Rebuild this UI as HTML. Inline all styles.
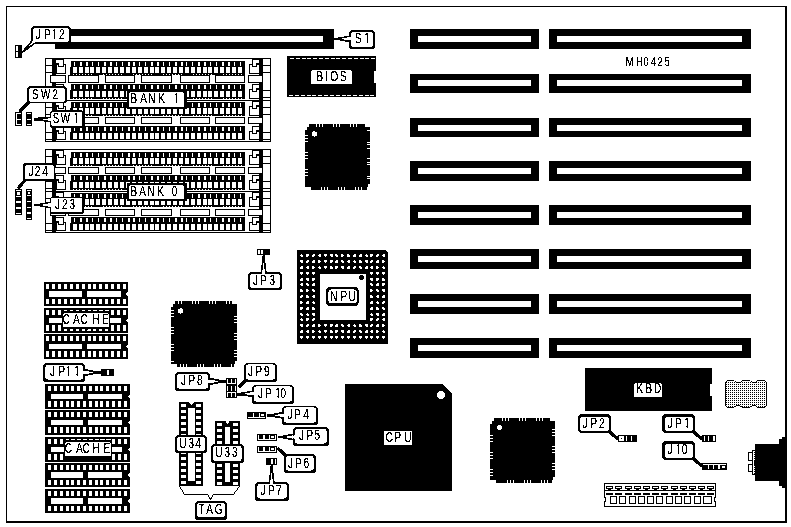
<!DOCTYPE html>
<html lang="en">
<head>
<meta charset="utf-8">
<title>MH0425 motherboard layout</title>
<style>
html,body{margin:0;padding:0;background:#fff;}
body{width:791px;height:527px;overflow:hidden;}
svg{display:block;shape-rendering:crispEdges;}
svg .aa{shape-rendering:geometricPrecision;}
svg .k{fill:#000;}
svg .w{fill:#fff;}
svg .ln{fill:none;stroke:#000;}
svg text{font-family:"Liberation Sans",sans-serif;text-anchor:middle;fill:#000;stroke:#000;stroke-width:0.2px;white-space:pre;}
</style>
</head>
<body>
<svg width="791" height="527" viewBox="0 0 791 527">
<defs><filter id="bw" x="0" y="0" width="791" height="527" filterUnits="userSpaceOnUse" color-interpolation-filters="sRGB"><feColorMatrix type="matrix" values="0.33 0.34 0.33 0 0 0.33 0.34 0.33 0 0 0.33 0.34 0.33 0 0 0 0 0 1 0"/><feComponentTransfer><feFuncR type="discrete" tableValues="0 1"/><feFuncG type="discrete" tableValues="0 1"/><feFuncB type="discrete" tableValues="0 1"/></feComponentTransfer></filter></defs>
<g filter="url(#bw)">
<rect x="0" y="0" width="791" height="527" fill="#fff"/>
<rect class="k" x="6" y="6" width="781" height="517"/>
<rect class="w" x="7" y="7" width="778" height="514"/>
<rect class="k" x="55" y="29" width="279" height="20"/>
<rect class="w" x="63" y="36" width="260" height="6"/>
<rect class="k" x="410" y="29" width="129" height="20"/>
<rect class="w" x="418" y="36" width="113" height="6"/>
<rect class="k" x="549" y="29" width="202" height="20"/>
<rect class="w" x="557" y="36" width="185" height="6"/>
<rect class="k" x="410" y="74" width="129" height="19"/>
<rect class="w" x="418" y="80" width="113" height="6"/>
<rect class="k" x="549" y="74" width="202" height="19"/>
<rect class="w" x="557" y="80" width="185" height="6"/>
<rect class="k" x="410" y="118" width="129" height="19"/>
<rect class="w" x="418" y="125" width="113" height="6"/>
<rect class="k" x="549" y="118" width="202" height="19"/>
<rect class="w" x="557" y="125" width="185" height="6"/>
<rect class="k" x="410" y="161" width="129" height="20"/>
<rect class="w" x="418" y="168" width="113" height="6"/>
<rect class="k" x="549" y="161" width="202" height="20"/>
<rect class="w" x="557" y="168" width="185" height="6"/>
<rect class="k" x="410" y="205" width="129" height="20"/>
<rect class="w" x="418" y="212" width="113" height="6"/>
<rect class="k" x="549" y="205" width="202" height="20"/>
<rect class="w" x="557" y="212" width="185" height="6"/>
<rect class="k" x="410" y="249" width="129" height="20"/>
<rect class="w" x="418" y="256" width="113" height="6"/>
<rect class="k" x="549" y="249" width="202" height="20"/>
<rect class="w" x="557" y="256" width="185" height="6"/>
<rect class="k" x="410" y="294" width="129" height="20"/>
<rect class="w" x="418" y="301" width="113" height="6"/>
<rect class="k" x="549" y="294" width="202" height="20"/>
<rect class="w" x="557" y="301" width="185" height="6"/>
<rect class="k" x="410" y="338" width="129" height="20"/>
<rect class="w" x="418" y="345" width="113" height="6"/>
<rect class="k" x="549" y="338" width="202" height="20"/>
<rect class="w" x="557" y="345" width="185" height="6"/>
<defs>
<g id="cr1">
<rect class="k" x="70" y="6" width="175" height="8"/>
<rect class="k" x="71" y="0" width="174" height="7"/>
<rect class="w" x="73" y="6" width="4" height="6"/>
<rect class="w" x="74" y="1" width="1" height="4"/>
<rect class="w" x="79" y="6" width="4" height="6"/>
<rect class="w" x="80" y="1" width="2" height="4"/>
<rect class="w" x="85" y="6" width="4" height="6"/>
<rect class="w" x="86" y="1" width="2" height="4"/>
<rect class="w" x="90" y="6" width="4" height="6"/>
<rect class="w" x="92" y="1" width="1" height="4"/>
<rect class="w" x="96" y="6" width="4" height="6"/>
<rect class="w" x="98" y="1" width="1" height="4"/>
<rect class="w" x="102" y="6" width="4" height="6"/>
<rect class="w" x="104" y="1" width="2" height="4"/>
<rect class="w" x="108" y="6" width="4" height="6"/>
<rect class="w" x="110" y="1" width="2" height="4"/>
<rect class="w" x="114" y="6" width="4" height="6"/>
<rect class="w" x="116" y="1" width="1" height="4"/>
<rect class="w" x="120" y="6" width="4" height="6"/>
<rect class="w" x="122" y="1" width="1" height="4"/>
<rect class="w" x="126" y="6" width="4" height="6"/>
<rect class="w" x="128" y="1" width="2" height="4"/>
<rect class="w" x="132" y="6" width="4" height="6"/>
<rect class="w" x="133" y="1" width="2" height="4"/>
<rect class="w" x="138" y="6" width="4" height="6"/>
<rect class="w" x="139" y="1" width="1" height="4"/>
<rect class="w" x="144" y="6" width="4" height="6"/>
<rect class="w" x="145" y="1" width="1" height="4"/>
<rect class="w" x="150" y="6" width="4" height="6"/>
<rect class="w" x="151" y="1" width="2" height="4"/>
<rect class="w" x="155" y="6" width="4" height="6"/>
<rect class="w" x="157" y="1" width="2" height="4"/>
<rect class="w" x="161" y="6" width="4" height="6"/>
<rect class="w" x="163" y="1" width="1" height="4"/>
<rect class="w" x="167" y="6" width="4" height="6"/>
<rect class="w" x="169" y="1" width="1" height="4"/>
<rect class="w" x="173" y="6" width="4" height="6"/>
<rect class="w" x="175" y="1" width="2" height="4"/>
<rect class="w" x="179" y="6" width="4" height="6"/>
<rect class="w" x="181" y="1" width="2" height="4"/>
<rect class="w" x="185" y="6" width="4" height="6"/>
<rect class="w" x="186" y="1" width="1" height="4"/>
<rect class="w" x="191" y="6" width="4" height="6"/>
<rect class="w" x="192" y="1" width="1" height="4"/>
<rect class="w" x="197" y="6" width="4" height="6"/>
<rect class="w" x="198" y="1" width="2" height="4"/>
<rect class="w" x="203" y="6" width="4" height="6"/>
<rect class="w" x="204" y="1" width="2" height="4"/>
<rect class="w" x="208" y="6" width="4" height="6"/>
<rect class="w" x="210" y="1" width="1" height="4"/>
<rect class="w" x="214" y="6" width="4" height="6"/>
<rect class="w" x="216" y="1" width="1" height="4"/>
<rect class="w" x="220" y="6" width="4" height="6"/>
<rect class="w" x="222" y="1" width="2" height="4"/>
<rect class="w" x="226" y="6" width="4" height="6"/>
<rect class="w" x="228" y="1" width="2" height="4"/>
<rect class="w" x="232" y="6" width="4" height="6"/>
<rect class="w" x="234" y="1" width="1" height="4"/>
<rect class="w" x="238" y="6" width="4" height="6"/>
<rect class="w" x="240" y="1" width="1" height="4"/>
<rect class="w" x="73" y="13" width="1" height="1"/>
<rect class="w" x="76" y="13" width="1" height="1"/>
<rect class="w" x="79" y="13" width="1" height="1"/>
<rect class="w" x="82" y="13" width="1" height="1"/>
<rect class="w" x="85" y="13" width="1" height="1"/>
<rect class="w" x="88" y="13" width="1" height="1"/>
<rect class="w" x="91" y="13" width="1" height="1"/>
<rect class="w" x="103" y="13" width="1" height="1"/>
<rect class="w" x="106" y="13" width="1" height="1"/>
<rect class="w" x="109" y="13" width="1" height="1"/>
<rect class="w" x="112" y="13" width="1" height="1"/>
<rect class="w" x="115" y="13" width="1" height="1"/>
<rect class="w" x="118" y="13" width="1" height="1"/>
<rect class="w" x="121" y="13" width="1" height="1"/>
<rect class="w" x="133" y="13" width="1" height="1"/>
<rect class="w" x="136" y="13" width="1" height="1"/>
<rect class="w" x="139" y="13" width="1" height="1"/>
<rect class="w" x="142" y="13" width="1" height="1"/>
<rect class="w" x="145" y="13" width="1" height="1"/>
<rect class="w" x="148" y="13" width="1" height="1"/>
<rect class="w" x="151" y="13" width="1" height="1"/>
<rect class="w" x="163" y="13" width="1" height="1"/>
<rect class="w" x="166" y="13" width="1" height="1"/>
<rect class="w" x="169" y="13" width="1" height="1"/>
<rect class="w" x="172" y="13" width="1" height="1"/>
<rect class="w" x="175" y="13" width="1" height="1"/>
<rect class="w" x="178" y="13" width="1" height="1"/>
<rect class="w" x="181" y="13" width="1" height="1"/>
<rect class="w" x="193" y="13" width="1" height="1"/>
<rect class="w" x="196" y="13" width="1" height="1"/>
<rect class="w" x="199" y="13" width="1" height="1"/>
<rect class="w" x="202" y="13" width="1" height="1"/>
<rect class="w" x="205" y="13" width="1" height="1"/>
<rect class="w" x="208" y="13" width="1" height="1"/>
<rect class="w" x="211" y="13" width="1" height="1"/>
<rect class="w" x="223" y="13" width="1" height="1"/>
<rect class="w" x="226" y="13" width="1" height="1"/>
<rect class="w" x="229" y="13" width="1" height="1"/>
<rect class="w" x="232" y="13" width="1" height="1"/>
<rect class="w" x="235" y="13" width="1" height="1"/>
<rect class="w" x="238" y="13" width="1" height="1"/>
<rect class="w" x="241" y="13" width="1" height="1"/>
</g>
<g id="cr2">
<rect class="k" x="70" y="6" width="175" height="9"/>
<rect class="k" x="71" y="0" width="174" height="7"/>
<rect class="w" x="73" y="7" width="4" height="6"/>
<rect class="w" x="74" y="1" width="1" height="4"/>
<rect class="w" x="79" y="7" width="4" height="6"/>
<rect class="w" x="80" y="1" width="2" height="4"/>
<rect class="w" x="85" y="7" width="4" height="6"/>
<rect class="w" x="86" y="1" width="2" height="4"/>
<rect class="w" x="90" y="7" width="4" height="6"/>
<rect class="w" x="92" y="1" width="1" height="4"/>
<rect class="w" x="96" y="7" width="4" height="6"/>
<rect class="w" x="98" y="1" width="1" height="4"/>
<rect class="w" x="102" y="7" width="4" height="6"/>
<rect class="w" x="104" y="1" width="2" height="4"/>
<rect class="w" x="108" y="7" width="4" height="6"/>
<rect class="w" x="110" y="1" width="2" height="4"/>
<rect class="w" x="114" y="7" width="4" height="6"/>
<rect class="w" x="116" y="1" width="1" height="4"/>
<rect class="w" x="120" y="7" width="4" height="6"/>
<rect class="w" x="122" y="1" width="1" height="4"/>
<rect class="w" x="126" y="7" width="4" height="6"/>
<rect class="w" x="128" y="1" width="2" height="4"/>
<rect class="w" x="132" y="7" width="4" height="6"/>
<rect class="w" x="133" y="1" width="2" height="4"/>
<rect class="w" x="138" y="7" width="4" height="6"/>
<rect class="w" x="139" y="1" width="1" height="4"/>
<rect class="w" x="144" y="7" width="4" height="6"/>
<rect class="w" x="145" y="1" width="1" height="4"/>
<rect class="w" x="150" y="7" width="4" height="6"/>
<rect class="w" x="151" y="1" width="2" height="4"/>
<rect class="w" x="155" y="7" width="4" height="6"/>
<rect class="w" x="157" y="1" width="2" height="4"/>
<rect class="w" x="161" y="7" width="4" height="6"/>
<rect class="w" x="163" y="1" width="1" height="4"/>
<rect class="w" x="167" y="7" width="4" height="6"/>
<rect class="w" x="169" y="1" width="1" height="4"/>
<rect class="w" x="173" y="7" width="4" height="6"/>
<rect class="w" x="175" y="1" width="2" height="4"/>
<rect class="w" x="179" y="7" width="4" height="6"/>
<rect class="w" x="181" y="1" width="2" height="4"/>
<rect class="w" x="185" y="7" width="4" height="6"/>
<rect class="w" x="186" y="1" width="1" height="4"/>
<rect class="w" x="191" y="7" width="4" height="6"/>
<rect class="w" x="192" y="1" width="1" height="4"/>
<rect class="w" x="197" y="7" width="4" height="6"/>
<rect class="w" x="198" y="1" width="2" height="4"/>
<rect class="w" x="203" y="7" width="4" height="6"/>
<rect class="w" x="204" y="1" width="2" height="4"/>
<rect class="w" x="208" y="7" width="4" height="6"/>
<rect class="w" x="210" y="1" width="1" height="4"/>
<rect class="w" x="214" y="7" width="4" height="6"/>
<rect class="w" x="216" y="1" width="1" height="4"/>
<rect class="w" x="220" y="7" width="4" height="6"/>
<rect class="w" x="222" y="1" width="2" height="4"/>
<rect class="w" x="226" y="7" width="4" height="6"/>
<rect class="w" x="228" y="1" width="2" height="4"/>
<rect class="w" x="232" y="7" width="4" height="6"/>
<rect class="w" x="234" y="1" width="1" height="4"/>
<rect class="w" x="238" y="7" width="4" height="6"/>
<rect class="w" x="240" y="1" width="1" height="4"/>
<rect class="w" x="73" y="14" width="1" height="1"/>
<rect class="w" x="76" y="14" width="1" height="1"/>
<rect class="w" x="79" y="14" width="1" height="1"/>
<rect class="w" x="82" y="14" width="1" height="1"/>
<rect class="w" x="85" y="14" width="1" height="1"/>
<rect class="w" x="88" y="14" width="1" height="1"/>
<rect class="w" x="91" y="14" width="1" height="1"/>
<rect class="w" x="103" y="14" width="1" height="1"/>
<rect class="w" x="106" y="14" width="1" height="1"/>
<rect class="w" x="109" y="14" width="1" height="1"/>
<rect class="w" x="112" y="14" width="1" height="1"/>
<rect class="w" x="115" y="14" width="1" height="1"/>
<rect class="w" x="118" y="14" width="1" height="1"/>
<rect class="w" x="121" y="14" width="1" height="1"/>
<rect class="w" x="133" y="14" width="1" height="1"/>
<rect class="w" x="136" y="14" width="1" height="1"/>
<rect class="w" x="139" y="14" width="1" height="1"/>
<rect class="w" x="142" y="14" width="1" height="1"/>
<rect class="w" x="145" y="14" width="1" height="1"/>
<rect class="w" x="148" y="14" width="1" height="1"/>
<rect class="w" x="151" y="14" width="1" height="1"/>
<rect class="w" x="163" y="14" width="1" height="1"/>
<rect class="w" x="166" y="14" width="1" height="1"/>
<rect class="w" x="169" y="14" width="1" height="1"/>
<rect class="w" x="172" y="14" width="1" height="1"/>
<rect class="w" x="175" y="14" width="1" height="1"/>
<rect class="w" x="178" y="14" width="1" height="1"/>
<rect class="w" x="181" y="14" width="1" height="1"/>
<rect class="w" x="193" y="14" width="1" height="1"/>
<rect class="w" x="196" y="14" width="1" height="1"/>
<rect class="w" x="199" y="14" width="1" height="1"/>
<rect class="w" x="202" y="14" width="1" height="1"/>
<rect class="w" x="205" y="14" width="1" height="1"/>
<rect class="w" x="208" y="14" width="1" height="1"/>
<rect class="w" x="211" y="14" width="1" height="1"/>
<rect class="w" x="223" y="14" width="1" height="1"/>
<rect class="w" x="226" y="14" width="1" height="1"/>
<rect class="w" x="229" y="14" width="1" height="1"/>
<rect class="w" x="232" y="14" width="1" height="1"/>
<rect class="w" x="235" y="14" width="1" height="1"/>
<rect class="w" x="238" y="14" width="1" height="1"/>
<rect class="w" x="241" y="14" width="1" height="1"/>
</g>
<g id="cr0">
<rect class="k" x="70" y="6" width="175" height="8"/>
<rect class="k" x="71" y="0" width="174" height="7"/>
<rect class="w" x="73" y="7" width="4" height="6"/>
<rect class="w" x="74" y="1" width="1" height="4"/>
<rect class="w" x="79" y="7" width="4" height="6"/>
<rect class="w" x="80" y="1" width="2" height="4"/>
<rect class="w" x="85" y="7" width="4" height="6"/>
<rect class="w" x="86" y="1" width="2" height="4"/>
<rect class="w" x="90" y="7" width="4" height="6"/>
<rect class="w" x="92" y="1" width="1" height="4"/>
<rect class="w" x="96" y="7" width="4" height="6"/>
<rect class="w" x="98" y="1" width="1" height="4"/>
<rect class="w" x="102" y="7" width="4" height="6"/>
<rect class="w" x="104" y="1" width="2" height="4"/>
<rect class="w" x="108" y="7" width="4" height="6"/>
<rect class="w" x="110" y="1" width="2" height="4"/>
<rect class="w" x="114" y="7" width="4" height="6"/>
<rect class="w" x="116" y="1" width="1" height="4"/>
<rect class="w" x="120" y="7" width="4" height="6"/>
<rect class="w" x="122" y="1" width="1" height="4"/>
<rect class="w" x="126" y="7" width="4" height="6"/>
<rect class="w" x="128" y="1" width="2" height="4"/>
<rect class="w" x="132" y="7" width="4" height="6"/>
<rect class="w" x="133" y="1" width="2" height="4"/>
<rect class="w" x="138" y="7" width="4" height="6"/>
<rect class="w" x="139" y="1" width="1" height="4"/>
<rect class="w" x="144" y="7" width="4" height="6"/>
<rect class="w" x="145" y="1" width="1" height="4"/>
<rect class="w" x="150" y="7" width="4" height="6"/>
<rect class="w" x="151" y="1" width="2" height="4"/>
<rect class="w" x="155" y="7" width="4" height="6"/>
<rect class="w" x="157" y="1" width="2" height="4"/>
<rect class="w" x="161" y="7" width="4" height="6"/>
<rect class="w" x="163" y="1" width="1" height="4"/>
<rect class="w" x="167" y="7" width="4" height="6"/>
<rect class="w" x="169" y="1" width="1" height="4"/>
<rect class="w" x="173" y="7" width="4" height="6"/>
<rect class="w" x="175" y="1" width="2" height="4"/>
<rect class="w" x="179" y="7" width="4" height="6"/>
<rect class="w" x="181" y="1" width="2" height="4"/>
<rect class="w" x="185" y="7" width="4" height="6"/>
<rect class="w" x="186" y="1" width="1" height="4"/>
<rect class="w" x="191" y="7" width="4" height="6"/>
<rect class="w" x="192" y="1" width="1" height="4"/>
<rect class="w" x="197" y="7" width="4" height="6"/>
<rect class="w" x="198" y="1" width="2" height="4"/>
<rect class="w" x="203" y="7" width="4" height="6"/>
<rect class="w" x="204" y="1" width="2" height="4"/>
<rect class="w" x="208" y="7" width="4" height="6"/>
<rect class="w" x="210" y="1" width="1" height="4"/>
<rect class="w" x="214" y="7" width="4" height="6"/>
<rect class="w" x="216" y="1" width="1" height="4"/>
<rect class="w" x="220" y="7" width="4" height="6"/>
<rect class="w" x="222" y="1" width="2" height="4"/>
<rect class="w" x="226" y="7" width="4" height="6"/>
<rect class="w" x="228" y="1" width="2" height="4"/>
<rect class="w" x="232" y="7" width="4" height="6"/>
<rect class="w" x="234" y="1" width="1" height="4"/>
<rect class="w" x="238" y="7" width="4" height="6"/>
<rect class="w" x="240" y="1" width="1" height="4"/>
</g>
<g id="lt">
<rect class="k" x="249" y="6" width="11" height="10"/>
<rect class="w" x="250" y="7" width="9" height="8"/>
<rect class="k" x="252" y="1" width="8" height="8"/>
<rect class="w" x="253" y="2" width="6" height="3"/>
<rect class="w" x="253" y="5" width="3" height="3"/>
<rect class="w" x="257" y="7" width="2" height="2"/>
<rect class="k" x="56" y="6" width="10" height="10"/>
<rect class="w" x="57" y="7" width="8" height="8"/>
<rect class="k" x="55" y="1" width="9" height="8"/>
<rect class="w" x="56" y="2" width="7" height="3"/>
<rect class="w" x="59" y="5" width="4" height="3"/>
<rect class="w" x="57" y="7" width="1" height="2"/>
</g>
<g id="lu">
<rect class="k" x="249" y="6" width="11" height="9"/>
<rect class="w" x="250" y="7" width="9" height="7"/>
<rect class="k" x="252" y="1" width="8" height="8"/>
<rect class="w" x="253" y="2" width="6" height="3"/>
<rect class="w" x="253" y="5" width="3" height="3"/>
<rect class="w" x="257" y="7" width="2" height="2"/>
<rect class="k" x="56" y="6" width="10" height="9"/>
<rect class="w" x="57" y="7" width="8" height="7"/>
<rect class="k" x="55" y="1" width="9" height="8"/>
<rect class="w" x="56" y="2" width="7" height="3"/>
<rect class="w" x="59" y="5" width="4" height="3"/>
<rect class="w" x="57" y="7" width="1" height="2"/>
</g>
<g id="bank1">
<rect class="k" x="45" y="0" width="226" height="84"/>
<rect class="w" x="46" y="1" width="224" height="82"/>
<rect class="k" x="45" y="42" width="226" height="1"/>
<rect class="k" x="52" y="0" width="4" height="84"/>
<rect class="k" x="259" y="0" width="4" height="84"/>
<rect class="k" x="45" y="7" width="7" height="1"/>
<rect class="k" x="263" y="7" width="8" height="1"/>
<rect class="k" x="45" y="14" width="7" height="1"/>
<rect class="k" x="263" y="14" width="8" height="1"/>
<rect class="k" x="45" y="32" width="7" height="1"/>
<rect class="k" x="263" y="32" width="8" height="1"/>
<rect class="k" x="45" y="39" width="7" height="1"/>
<rect class="k" x="263" y="39" width="8" height="1"/>
<rect class="k" x="45" y="49" width="7" height="1"/>
<rect class="k" x="263" y="49" width="8" height="1"/>
<rect class="k" x="45" y="56" width="7" height="1"/>
<rect class="k" x="263" y="56" width="8" height="1"/>
<rect class="k" x="45" y="74" width="7" height="1"/>
<rect class="k" x="263" y="74" width="8" height="1"/>
<rect class="k" x="45" y="81" width="7" height="1"/>
<rect class="k" x="263" y="81" width="8" height="1"/>
<use href="#cr1" y="3"/>
<use href="#lt" y="0"/>
<use href="#cr2" y="26"/>
<use href="#lt" y="25"/>
<use href="#cr1" y="44"/>
<use href="#lt" y="42"/>
<use href="#cr0" y="68"/>
<use href="#lu" y="67"/>
<rect class="k" x="50" y="17" width="16" height="8"/>
<rect class="w" x="51" y="18" width="14" height="6"/>
<rect class="k" x="248" y="17" width="15" height="8"/>
<rect class="w" x="249" y="18" width="13" height="6"/>
<rect class="k" x="68" y="17" width="31" height="8"/>
<rect class="w" x="69" y="18" width="29" height="6"/>
<rect class="k" x="105" y="17" width="30" height="8"/>
<rect class="w" x="106" y="18" width="28" height="6"/>
<rect class="k" x="141" y="17" width="31" height="8"/>
<rect class="w" x="142" y="18" width="29" height="6"/>
<rect class="k" x="180" y="17" width="30" height="8"/>
<rect class="w" x="181" y="18" width="28" height="6"/>
<rect class="k" x="215" y="17" width="30" height="8"/>
<rect class="w" x="216" y="18" width="28" height="6"/>
<rect class="k" x="50" y="59" width="16" height="7"/>
<rect class="w" x="51" y="60" width="14" height="5"/>
<rect class="k" x="248" y="59" width="15" height="7"/>
<rect class="w" x="249" y="60" width="13" height="5"/>
<rect class="k" x="68" y="59" width="31" height="7"/>
<rect class="w" x="69" y="60" width="29" height="5"/>
<rect class="k" x="105" y="59" width="30" height="7"/>
<rect class="w" x="106" y="60" width="28" height="5"/>
<rect class="k" x="141" y="59" width="31" height="7"/>
<rect class="w" x="142" y="60" width="29" height="5"/>
<rect class="k" x="180" y="59" width="30" height="7"/>
<rect class="w" x="181" y="60" width="28" height="5"/>
<rect class="k" x="215" y="59" width="30" height="7"/>
<rect class="w" x="216" y="60" width="28" height="5"/>
</g>
<g id="bank0">
<rect class="k" x="45" y="0" width="226" height="84"/>
<rect class="w" x="46" y="1" width="224" height="82"/>
<rect class="k" x="45" y="42" width="226" height="1"/>
<rect class="k" x="52" y="0" width="4" height="84"/>
<rect class="k" x="259" y="0" width="4" height="84"/>
<rect class="k" x="45" y="7" width="7" height="1"/>
<rect class="k" x="263" y="7" width="8" height="1"/>
<rect class="k" x="45" y="14" width="7" height="1"/>
<rect class="k" x="263" y="14" width="8" height="1"/>
<rect class="k" x="45" y="32" width="7" height="1"/>
<rect class="k" x="263" y="32" width="8" height="1"/>
<rect class="k" x="45" y="39" width="7" height="1"/>
<rect class="k" x="263" y="39" width="8" height="1"/>
<rect class="k" x="45" y="49" width="7" height="1"/>
<rect class="k" x="263" y="49" width="8" height="1"/>
<rect class="k" x="45" y="56" width="7" height="1"/>
<rect class="k" x="263" y="56" width="8" height="1"/>
<rect class="k" x="45" y="74" width="7" height="1"/>
<rect class="k" x="263" y="74" width="8" height="1"/>
<rect class="k" x="45" y="81" width="7" height="1"/>
<rect class="k" x="263" y="81" width="8" height="1"/>
<use href="#cr1" y="3"/>
<use href="#lt" y="0"/>
<use href="#cr2" y="26"/>
<use href="#lt" y="25"/>
<use href="#cr1" y="44"/>
<use href="#lt" y="42"/>
<use href="#cr0" y="68"/>
<use href="#lu" y="67"/>
<rect class="k" x="50" y="18" width="16" height="7"/>
<rect class="w" x="51" y="19" width="14" height="5"/>
<rect class="k" x="248" y="18" width="15" height="7"/>
<rect class="w" x="249" y="19" width="13" height="5"/>
<rect class="k" x="68" y="18" width="31" height="7"/>
<rect class="w" x="69" y="19" width="29" height="5"/>
<rect class="k" x="105" y="18" width="30" height="7"/>
<rect class="w" x="106" y="19" width="28" height="5"/>
<rect class="k" x="141" y="18" width="31" height="7"/>
<rect class="w" x="142" y="19" width="29" height="5"/>
<rect class="k" x="180" y="18" width="30" height="7"/>
<rect class="w" x="181" y="19" width="28" height="5"/>
<rect class="k" x="215" y="18" width="30" height="7"/>
<rect class="w" x="216" y="19" width="28" height="5"/>
<rect class="k" x="50" y="60" width="16" height="7"/>
<rect class="w" x="51" y="61" width="14" height="5"/>
<rect class="k" x="248" y="60" width="15" height="7"/>
<rect class="w" x="249" y="61" width="13" height="5"/>
<rect class="k" x="68" y="60" width="31" height="7"/>
<rect class="w" x="69" y="61" width="29" height="5"/>
<rect class="k" x="105" y="60" width="30" height="7"/>
<rect class="w" x="106" y="61" width="28" height="5"/>
<rect class="k" x="141" y="60" width="31" height="7"/>
<rect class="w" x="142" y="61" width="29" height="5"/>
<rect class="k" x="180" y="60" width="30" height="7"/>
<rect class="w" x="181" y="61" width="28" height="5"/>
<rect class="k" x="215" y="60" width="30" height="7"/>
<rect class="w" x="216" y="61" width="28" height="5"/>
</g>
<clipPath id="c0"><path clip-rule="evenodd" d="M31.62 -20H103.51V8H31.62ZM48.02 -12H52.62V-8.4H48.02ZM69.92 -1.2H73.42V4H69.92ZM74.92 -1.2H77.92V4H74.92Z"/></clipPath>
<clipPath id="c1"><path clip-rule="evenodd" d="M463.92 -20H515.95V8H463.92ZM491.95 -1.2H495.45V4H491.95ZM496.95 -1.2H499.95V4H496.95Z"/></clipPath>
<clipPath id="c2"><path clip-rule="evenodd" d="M60.21 -20H129.07V8H60.21ZM105.07 -1.2H108.57V4H105.07ZM110.07 -1.2H113.07V4H110.07Z"/></clipPath>
<clipPath id="c3"><path clip-rule="evenodd" d="M168.59 -20H268.59V8H168.59ZM244.59 -1.2H248.09V4H244.59ZM249.59 -1.2H252.59V4H249.59Z"/></clipPath>
<clipPath id="c4"><path clip-rule="evenodd" d="M21.89 -20H81.08V8H21.89ZM38.29 -12H42.89V-8.4H38.29Z"/></clipPath>
<clipPath id="c5"><path clip-rule="evenodd" d="M57.84 -20H117.57V8H57.84ZM74.24 -12H78.84V-8.4H74.24Z"/></clipPath>
<clipPath id="c6"><path clip-rule="evenodd" d="M325.34 -20H387.7V8H325.34ZM341.74 -12H346.34V-8.4H341.74Z"/></clipPath>
<clipPath id="c7"><path clip-rule="evenodd" d="M51.01 -20H123.92V8H51.01ZM67.41 -12H72.01V-8.4H67.41ZM88.84 -1.2H92.34V4H88.84ZM93.84 -1.2H96.84V4H93.84ZM99.92 -1.2H103.42V4H99.92ZM104.92 -1.2H107.92V4H104.92Z"/></clipPath>
<clipPath id="c8"><path clip-rule="evenodd" d="M227.97 -20H290.07V8H227.97ZM244.37 -12H248.97V-8.4H244.37Z"/></clipPath>
<clipPath id="c9"><path clip-rule="evenodd" d="M318.51 -20H380.54V8H318.51ZM334.91 -12H339.51V-8.4H334.91Z"/></clipPath>
<clipPath id="c10"><path clip-rule="evenodd" d="M332.3 -20H402.7V8H332.3ZM348.7 -12H353.3V-8.4H348.7ZM371.54 -1.2H375.04V4H371.54ZM376.54 -1.2H379.54V4H376.54Z"/></clipPath>
<clipPath id="c11"><path clip-rule="evenodd" d="M372.16 -20H433.85V8H372.16ZM388.56 -12H393.16V-8.4H388.56Z"/></clipPath>
<clipPath id="c12"><path clip-rule="evenodd" d="M387.5 -20H448.51V8H387.5ZM403.9 -12H408.5V-8.4H403.9Z"/></clipPath>
<clipPath id="c13"><path clip-rule="evenodd" d="M372.7 -20H434.12V8H372.7ZM389.1 -12H393.7V-8.4H389.1Z"/></clipPath>
<clipPath id="c14"><path clip-rule="evenodd" d="M335.68 -20H397.03V8H335.68ZM352.08 -12H356.68V-8.4H352.08Z"/></clipPath>
<clipPath id="c15"><path clip-rule="evenodd" d="M770.74 -20H833.24V8H770.74ZM787.14 -12H791.74V-8.4H787.14Z"/></clipPath>
<clipPath id="c16"><path clip-rule="evenodd" d="M885.68 -20H948.24V8H885.68ZM902.08 -12H906.68V-8.4H902.08ZM924.24 -1.2H927.74V4H924.24ZM929.24 -1.2H932.24V4H929.24Z"/></clipPath>
<clipPath id="c17"><path clip-rule="evenodd" d="M885.68 -20H945.27V8H885.68ZM902.08 -12H906.68V-8.4H902.08ZM913.16 -1.2H916.66V4H913.16ZM918.16 -1.2H921.16V4H918.16Z"/></clipPath>
<pattern id="ht" width="2" height="2" patternUnits="userSpaceOnUse"><rect width="2" height="2" fill="#fff"/><rect width="1" height="1" fill="#000"/></pattern>
</defs>
<use href="#bank1" y="58"/>
<use href="#bank0" y="149"/>
<rect class="k" x="287" y="56" width="89" height="41"/>
<rect class="w" x="290" y="58" width="4" height="1"/>
<rect class="w" x="289" y="95" width="4" height="1"/>
<rect class="w" x="296" y="58" width="4" height="1"/>
<rect class="w" x="295" y="95" width="4" height="1"/>
<rect class="w" x="302" y="58" width="4" height="1"/>
<rect class="w" x="301" y="95" width="4" height="1"/>
<rect class="w" x="307" y="58" width="4" height="1"/>
<rect class="w" x="307" y="95" width="4" height="1"/>
<rect class="w" x="313" y="58" width="4" height="1"/>
<rect class="w" x="312" y="95" width="4" height="1"/>
<rect class="w" x="319" y="58" width="4" height="1"/>
<rect class="w" x="318" y="95" width="4" height="1"/>
<rect class="w" x="325" y="58" width="4" height="1"/>
<rect class="w" x="324" y="95" width="4" height="1"/>
<rect class="w" x="331" y="58" width="4" height="1"/>
<rect class="w" x="330" y="95" width="4" height="1"/>
<rect class="w" x="336" y="58" width="4" height="1"/>
<rect class="w" x="336" y="95" width="4" height="1"/>
<rect class="w" x="342" y="58" width="4" height="1"/>
<rect class="w" x="342" y="95" width="4" height="1"/>
<rect class="w" x="348" y="58" width="4" height="1"/>
<rect class="w" x="347" y="95" width="4" height="1"/>
<rect class="w" x="354" y="58" width="4" height="1"/>
<rect class="w" x="353" y="95" width="4" height="1"/>
<rect class="w" x="360" y="58" width="4" height="1"/>
<rect class="w" x="359" y="95" width="4" height="1"/>
<rect class="w" x="365" y="58" width="4" height="1"/>
<rect class="w" x="365" y="95" width="4" height="1"/>
<rect class="w" x="371" y="58" width="4" height="1"/>
<rect class="w" x="370" y="95" width="4" height="1"/>
<rect class="w" x="374" y="71" width="2" height="12"/>
<rect class="w aa" x="311" y="70" width="41" height="14" rx="1.5" ry="1.5"/>
<text transform="translate(0,81) scale(0.74,1)" font-size="14" x="431.89 441.49 451.62 463.65">BIOS</text>
<rect class="k" x="307" y="127" width="61" height="60"/>
<rect class="k" x="309" y="124" width="56" height="3"/>
<rect class="k" x="311" y="187" width="56" height="3"/>
<rect class="k" x="305" y="130" width="2" height="57"/>
<rect class="k" x="368" y="127" width="2" height="57"/>
<rect class="w" x="316" y="124" width="1" height="3"/>
<rect class="w" x="319" y="124" width="1" height="3"/>
<rect class="w" x="322" y="124" width="1" height="3"/>
<rect class="w" x="333" y="124" width="1" height="3"/>
<rect class="w" x="336" y="124" width="1" height="3"/>
<rect class="w" x="339" y="124" width="1" height="3"/>
<rect class="w" x="350" y="124" width="1" height="3"/>
<rect class="w" x="353" y="124" width="1" height="3"/>
<rect class="w" x="356" y="124" width="1" height="3"/>
<rect class="w" x="321" y="187" width="1" height="3"/>
<rect class="w" x="324" y="187" width="1" height="3"/>
<rect class="w" x="327" y="187" width="1" height="3"/>
<rect class="w" x="338" y="187" width="1" height="3"/>
<rect class="w" x="341" y="187" width="1" height="3"/>
<rect class="w" x="344" y="187" width="1" height="3"/>
<rect class="w" x="355" y="187" width="1" height="3"/>
<rect class="w" x="358" y="187" width="1" height="3"/>
<rect class="w" x="361" y="187" width="1" height="3"/>
<rect class="w" x="305" y="135" width="3" height="1"/>
<rect class="w" x="305" y="138" width="3" height="1"/>
<rect class="w" x="305" y="141" width="3" height="1"/>
<rect class="w" x="305" y="152" width="3" height="1"/>
<rect class="w" x="305" y="155" width="3" height="1"/>
<rect class="w" x="305" y="158" width="3" height="1"/>
<rect class="w" x="305" y="169" width="3" height="1"/>
<rect class="w" x="305" y="172" width="3" height="1"/>
<rect class="w" x="305" y="175" width="3" height="1"/>
<rect class="w" x="367" y="130" width="3" height="1"/>
<rect class="w" x="367" y="142" width="3" height="1"/>
<rect class="w" x="367" y="144" width="3" height="1"/>
<rect class="w" x="367" y="148" width="3" height="1"/>
<rect class="w" x="367" y="158" width="3" height="1"/>
<rect class="w" x="367" y="162" width="3" height="1"/>
<rect class="w" x="367" y="164" width="3" height="1"/>
<rect class="w" x="367" y="176" width="3" height="1"/>
<rect class="w" x="367" y="178" width="3" height="1"/>
<circle class="w aa" cx="314.4" cy="133.9" r="2.6"/>
<rect class="k" x="173" y="304" width="62" height="60"/>
<rect class="k" x="175" y="301" width="57" height="3"/>
<rect class="k" x="177" y="364" width="57" height="3"/>
<rect class="k" x="171" y="307" width="2" height="57"/>
<rect class="k" x="235" y="304" width="2" height="57"/>
<rect class="w" x="178" y="301" width="1" height="3"/>
<rect class="w" x="181" y="301" width="1" height="3"/>
<rect class="w" x="192" y="301" width="1" height="3"/>
<rect class="w" x="195" y="301" width="1" height="3"/>
<rect class="w" x="198" y="301" width="1" height="3"/>
<rect class="w" x="209" y="301" width="1" height="3"/>
<rect class="w" x="212" y="301" width="1" height="3"/>
<rect class="w" x="215" y="301" width="1" height="3"/>
<rect class="w" x="226" y="301" width="1" height="3"/>
<rect class="w" x="229" y="301" width="1" height="3"/>
<rect class="w" x="180" y="364" width="1" height="3"/>
<rect class="w" x="183" y="364" width="1" height="3"/>
<rect class="w" x="186" y="364" width="1" height="3"/>
<rect class="w" x="197" y="364" width="1" height="3"/>
<rect class="w" x="200" y="364" width="1" height="3"/>
<rect class="w" x="203" y="364" width="1" height="3"/>
<rect class="w" x="214" y="364" width="1" height="3"/>
<rect class="w" x="217" y="364" width="1" height="3"/>
<rect class="w" x="220" y="364" width="1" height="3"/>
<rect class="w" x="231" y="364" width="1" height="3"/>
<rect class="w" x="171" y="310" width="3" height="1"/>
<rect class="w" x="171" y="313" width="3" height="1"/>
<rect class="w" x="171" y="316" width="3" height="1"/>
<rect class="w" x="171" y="327" width="3" height="1"/>
<rect class="w" x="171" y="330" width="3" height="1"/>
<rect class="w" x="171" y="333" width="3" height="1"/>
<rect class="w" x="171" y="344" width="3" height="1"/>
<rect class="w" x="171" y="347" width="3" height="1"/>
<rect class="w" x="171" y="350" width="3" height="1"/>
<rect class="w" x="171" y="361" width="3" height="1"/>
<rect class="w" x="234" y="316" width="3" height="1"/>
<rect class="w" x="234" y="319" width="3" height="1"/>
<rect class="w" x="234" y="322" width="3" height="1"/>
<rect class="w" x="234" y="333" width="3" height="1"/>
<rect class="w" x="234" y="336" width="3" height="1"/>
<rect class="w" x="234" y="339" width="3" height="1"/>
<rect class="w" x="234" y="350" width="3" height="1"/>
<rect class="w" x="234" y="353" width="3" height="1"/>
<rect class="w" x="234" y="356" width="3" height="1"/>
<circle class="w aa" cx="180.7" cy="310.9" r="2.6"/>
<rect class="k" x="492" y="421" width="61" height="59"/>
<rect class="k" x="494" y="418" width="56" height="3"/>
<rect class="k" x="496" y="480" width="56" height="3"/>
<rect class="k" x="490" y="424" width="2" height="56"/>
<rect class="k" x="553" y="421" width="2" height="56"/>
<rect class="w" x="502" y="418" width="1" height="3"/>
<rect class="w" x="505" y="418" width="1" height="3"/>
<rect class="w" x="508" y="418" width="1" height="3"/>
<rect class="w" x="519" y="418" width="1" height="3"/>
<rect class="w" x="522" y="418" width="1" height="3"/>
<rect class="w" x="525" y="418" width="1" height="3"/>
<rect class="w" x="536" y="418" width="1" height="3"/>
<rect class="w" x="539" y="418" width="1" height="3"/>
<rect class="w" x="542" y="418" width="1" height="3"/>
<rect class="w" x="507" y="480" width="1" height="3"/>
<rect class="w" x="510" y="480" width="1" height="3"/>
<rect class="w" x="513" y="480" width="1" height="3"/>
<rect class="w" x="524" y="480" width="1" height="3"/>
<rect class="w" x="527" y="480" width="1" height="3"/>
<rect class="w" x="530" y="480" width="1" height="3"/>
<rect class="w" x="541" y="480" width="1" height="3"/>
<rect class="w" x="544" y="480" width="1" height="3"/>
<rect class="w" x="547" y="480" width="1" height="3"/>
<rect class="w" x="490" y="435" width="3" height="1"/>
<rect class="w" x="490" y="438" width="3" height="1"/>
<rect class="w" x="490" y="441" width="3" height="1"/>
<rect class="w" x="490" y="452" width="3" height="1"/>
<rect class="w" x="490" y="455" width="3" height="1"/>
<rect class="w" x="490" y="458" width="3" height="1"/>
<rect class="w" x="490" y="469" width="3" height="1"/>
<rect class="w" x="490" y="472" width="3" height="1"/>
<rect class="w" x="490" y="475" width="3" height="1"/>
<rect class="w" x="552" y="429" width="3" height="1"/>
<rect class="w" x="552" y="432" width="3" height="1"/>
<rect class="w" x="552" y="435" width="3" height="1"/>
<rect class="w" x="552" y="446" width="3" height="1"/>
<rect class="w" x="552" y="449" width="3" height="1"/>
<rect class="w" x="552" y="452" width="3" height="1"/>
<rect class="w" x="552" y="463" width="3" height="1"/>
<rect class="w" x="552" y="466" width="3" height="1"/>
<rect class="w" x="552" y="469" width="3" height="1"/>
<circle class="w aa" cx="499.4" cy="427.5" r="2.6"/>
<polygon class="k" points="297,250 385,250 388,253 388,344 297,344" />
<rect class="w" x="300" y="254" width="3" height="3"/>
<rect class="k" x="300" y="254" width="1" height="1"/>
<rect class="k" x="302" y="254" width="1" height="1"/>
<rect class="k" x="300" y="256" width="1" height="1"/>
<rect class="w" x="300" y="260" width="3" height="3"/>
<rect class="k" x="300" y="262" width="1" height="1"/>
<rect class="w" x="300" y="266" width="3" height="3"/>
<rect class="k" x="300" y="266" width="1" height="1"/>
<rect class="w" x="300" y="272" width="3" height="3"/>
<rect class="k" x="300" y="274" width="1" height="1"/>
<rect class="k" x="302" y="274" width="1" height="1"/>
<rect class="w" x="300" y="278" width="3" height="3"/>
<rect class="k" x="300" y="278" width="1" height="1"/>
<rect class="w" x="300" y="283" width="3" height="3"/>
<rect class="k" x="300" y="285" width="1" height="1"/>
<rect class="k" x="300" y="283" width="1" height="1"/>
<rect class="w" x="300" y="289" width="3" height="3"/>
<rect class="k" x="302" y="289" width="1" height="1"/>
<rect class="w" x="300" y="295" width="3" height="3"/>
<rect class="k" x="302" y="297" width="1" height="1"/>
<rect class="k" x="300" y="295" width="1" height="1"/>
<rect class="w" x="300" y="301" width="3" height="3"/>
<rect class="k" x="302" y="301" width="1" height="1"/>
<rect class="k" x="302" y="303" width="1" height="1"/>
<rect class="w" x="300" y="307" width="3" height="3"/>
<rect class="k" x="302" y="309" width="1" height="1"/>
<rect class="w" x="300" y="313" width="3" height="3"/>
<rect class="k" x="302" y="313" width="1" height="1"/>
<rect class="k" x="300" y="315" width="1" height="1"/>
<rect class="w" x="300" y="318" width="3" height="3"/>
<rect class="k" x="300" y="318" width="1" height="1"/>
<rect class="k" x="302" y="318" width="1" height="1"/>
<rect class="k" x="300" y="320" width="1" height="1"/>
<rect class="w" x="300" y="324" width="3" height="3"/>
<rect class="k" x="300" y="326" width="1" height="1"/>
<rect class="w" x="300" y="330" width="3" height="3"/>
<rect class="k" x="300" y="330" width="1" height="1"/>
<rect class="w" x="300" y="336" width="3" height="3"/>
<rect class="k" x="300" y="338" width="1" height="1"/>
<rect class="k" x="302" y="338" width="1" height="1"/>
<rect class="w" x="306" y="254" width="3" height="3"/>
<rect class="k" x="308" y="256" width="1" height="1"/>
<rect class="w" x="306" y="260" width="3" height="3"/>
<rect class="k" x="308" y="262" width="1" height="1"/>
<rect class="k" x="306" y="260" width="1" height="1"/>
<rect class="w" x="306" y="266" width="3" height="3"/>
<rect class="k" x="306" y="268" width="1" height="1"/>
<rect class="k" x="306" y="266" width="1" height="1"/>
<rect class="w" x="306" y="272" width="3" height="3"/>
<rect class="k" x="306" y="274" width="1" height="1"/>
<rect class="k" x="308" y="274" width="1" height="1"/>
<rect class="w" x="306" y="278" width="3" height="3"/>
<rect class="k" x="306" y="280" width="1" height="1"/>
<rect class="w" x="306" y="283" width="3" height="3"/>
<rect class="k" x="308" y="283" width="1" height="1"/>
<rect class="k" x="306" y="285" width="1" height="1"/>
<rect class="w" x="306" y="289" width="3" height="3"/>
<rect class="k" x="308" y="289" width="1" height="1"/>
<rect class="k" x="308" y="291" width="1" height="1"/>
<rect class="w" x="306" y="295" width="3" height="3"/>
<rect class="k" x="308" y="295" width="1" height="1"/>
<rect class="w" x="306" y="301" width="3" height="3"/>
<rect class="k" x="306" y="301" width="1" height="1"/>
<rect class="w" x="306" y="307" width="3" height="3"/>
<rect class="k" x="306" y="307" width="1" height="1"/>
<rect class="w" x="306" y="313" width="3" height="3"/>
<rect class="k" x="306" y="313" width="1" height="1"/>
<rect class="k" x="308" y="313" width="1" height="1"/>
<rect class="k" x="306" y="315" width="1" height="1"/>
<rect class="w" x="306" y="318" width="3" height="3"/>
<rect class="k" x="308" y="320" width="1" height="1"/>
<rect class="w" x="306" y="324" width="3" height="3"/>
<rect class="k" x="308" y="326" width="1" height="1"/>
<rect class="k" x="306" y="324" width="1" height="1"/>
<rect class="w" x="306" y="330" width="3" height="3"/>
<rect class="k" x="306" y="332" width="1" height="1"/>
<rect class="k" x="306" y="330" width="1" height="1"/>
<rect class="w" x="306" y="336" width="3" height="3"/>
<rect class="k" x="306" y="338" width="1" height="1"/>
<rect class="k" x="308" y="338" width="1" height="1"/>
<rect class="w" x="312" y="254" width="3" height="3"/>
<rect class="k" x="314" y="256" width="1" height="1"/>
<rect class="k" x="312" y="254" width="1" height="1"/>
<rect class="w" x="312" y="260" width="3" height="3"/>
<rect class="k" x="312" y="260" width="1" height="1"/>
<rect class="w" x="312" y="266" width="3" height="3"/>
<rect class="k" x="314" y="266" width="1" height="1"/>
<rect class="k" x="314" y="268" width="1" height="1"/>
<rect class="w" x="312" y="272" width="3" height="3"/>
<rect class="k" x="312" y="274" width="1" height="1"/>
<rect class="k" x="314" y="274" width="1" height="1"/>
<rect class="w" x="312" y="278" width="3" height="3"/>
<rect class="k" x="314" y="280" width="1" height="1"/>
<rect class="w" x="312" y="283" width="3" height="3"/>
<rect class="k" x="312" y="283" width="1" height="1"/>
<rect class="w" x="312" y="289" width="3" height="3"/>
<rect class="k" x="314" y="289" width="1" height="1"/>
<rect class="k" x="312" y="291" width="1" height="1"/>
<rect class="w" x="312" y="295" width="3" height="3"/>
<rect class="k" x="312" y="297" width="1" height="1"/>
<rect class="k" x="312" y="295" width="1" height="1"/>
<rect class="w" x="312" y="301" width="3" height="3"/>
<rect class="k" x="312" y="301" width="1" height="1"/>
<rect class="k" x="314" y="301" width="1" height="1"/>
<rect class="k" x="312" y="303" width="1" height="1"/>
<rect class="w" x="312" y="307" width="3" height="3"/>
<rect class="k" x="314" y="307" width="1" height="1"/>
<rect class="w" x="312" y="313" width="3" height="3"/>
<rect class="k" x="312" y="315" width="1" height="1"/>
<rect class="w" x="312" y="318" width="3" height="3"/>
<rect class="k" x="314" y="320" width="1" height="1"/>
<rect class="k" x="312" y="318" width="1" height="1"/>
<rect class="w" x="312" y="324" width="3" height="3"/>
<rect class="k" x="312" y="324" width="1" height="1"/>
<rect class="w" x="312" y="330" width="3" height="3"/>
<rect class="k" x="314" y="330" width="1" height="1"/>
<rect class="k" x="314" y="332" width="1" height="1"/>
<rect class="w" x="312" y="336" width="3" height="3"/>
<rect class="k" x="312" y="338" width="1" height="1"/>
<rect class="k" x="314" y="338" width="1" height="1"/>
<rect class="w" x="318" y="254" width="3" height="3"/>
<rect class="k" x="318" y="256" width="1" height="1"/>
<rect class="k" x="318" y="254" width="1" height="1"/>
<rect class="w" x="318" y="260" width="3" height="3"/>
<rect class="k" x="320" y="260" width="1" height="1"/>
<rect class="k" x="320" y="262" width="1" height="1"/>
<rect class="w" x="318" y="266" width="3" height="3"/>
<rect class="k" x="318" y="266" width="1" height="1"/>
<rect class="k" x="320" y="266" width="1" height="1"/>
<rect class="k" x="318" y="268" width="1" height="1"/>
<rect class="w" x="318" y="324" width="3" height="3"/>
<rect class="k" x="320" y="324" width="1" height="1"/>
<rect class="k" x="320" y="326" width="1" height="1"/>
<rect class="w" x="318" y="330" width="3" height="3"/>
<rect class="k" x="318" y="330" width="1" height="1"/>
<rect class="k" x="320" y="330" width="1" height="1"/>
<rect class="k" x="318" y="332" width="1" height="1"/>
<rect class="w" x="318" y="336" width="3" height="3"/>
<rect class="k" x="318" y="338" width="1" height="1"/>
<rect class="k" x="320" y="338" width="1" height="1"/>
<rect class="w" x="324" y="254" width="3" height="3"/>
<rect class="k" x="324" y="256" width="1" height="1"/>
<rect class="k" x="326" y="256" width="1" height="1"/>
<rect class="w" x="324" y="260" width="3" height="3"/>
<rect class="k" x="324" y="262" width="1" height="1"/>
<rect class="k" x="326" y="262" width="1" height="1"/>
<rect class="w" x="324" y="266" width="3" height="3"/>
<rect class="k" x="324" y="268" width="1" height="1"/>
<rect class="k" x="326" y="268" width="1" height="1"/>
<rect class="w" x="324" y="324" width="3" height="3"/>
<rect class="k" x="324" y="326" width="1" height="1"/>
<rect class="k" x="326" y="326" width="1" height="1"/>
<rect class="w" x="324" y="330" width="3" height="3"/>
<rect class="k" x="324" y="332" width="1" height="1"/>
<rect class="k" x="326" y="332" width="1" height="1"/>
<rect class="w" x="324" y="336" width="3" height="3"/>
<rect class="k" x="324" y="338" width="1" height="1"/>
<rect class="k" x="326" y="338" width="1" height="1"/>
<rect class="w" x="330" y="254" width="3" height="3"/>
<rect class="k" x="330" y="256" width="1" height="1"/>
<rect class="w" x="330" y="260" width="3" height="3"/>
<rect class="k" x="332" y="262" width="1" height="1"/>
<rect class="w" x="330" y="266" width="3" height="3"/>
<rect class="k" x="332" y="266" width="1" height="1"/>
<rect class="w" x="330" y="324" width="3" height="3"/>
<rect class="k" x="332" y="326" width="1" height="1"/>
<rect class="w" x="330" y="330" width="3" height="3"/>
<rect class="k" x="332" y="330" width="1" height="1"/>
<rect class="w" x="330" y="336" width="3" height="3"/>
<rect class="k" x="330" y="338" width="1" height="1"/>
<rect class="k" x="332" y="338" width="1" height="1"/>
<rect class="w" x="335" y="254" width="3" height="3"/>
<rect class="k" x="337" y="254" width="1" height="1"/>
<rect class="k" x="335" y="256" width="1" height="1"/>
<rect class="w" x="335" y="260" width="3" height="3"/>
<rect class="k" x="335" y="260" width="1" height="1"/>
<rect class="w" x="335" y="266" width="3" height="3"/>
<rect class="k" x="337" y="268" width="1" height="1"/>
<rect class="w" x="335" y="324" width="3" height="3"/>
<rect class="k" x="335" y="324" width="1" height="1"/>
<rect class="w" x="335" y="330" width="3" height="3"/>
<rect class="k" x="337" y="332" width="1" height="1"/>
<rect class="w" x="335" y="336" width="3" height="3"/>
<rect class="k" x="335" y="338" width="1" height="1"/>
<rect class="k" x="337" y="338" width="1" height="1"/>
<rect class="w" x="341" y="254" width="3" height="3"/>
<rect class="k" x="343" y="254" width="1" height="1"/>
<rect class="k" x="343" y="256" width="1" height="1"/>
<rect class="w" x="341" y="260" width="3" height="3"/>
<rect class="k" x="343" y="260" width="1" height="1"/>
<rect class="k" x="341" y="262" width="1" height="1"/>
<rect class="w" x="341" y="266" width="3" height="3"/>
<rect class="k" x="341" y="268" width="1" height="1"/>
<rect class="w" x="341" y="324" width="3" height="3"/>
<rect class="k" x="343" y="324" width="1" height="1"/>
<rect class="k" x="341" y="326" width="1" height="1"/>
<rect class="w" x="341" y="330" width="3" height="3"/>
<rect class="k" x="341" y="332" width="1" height="1"/>
<rect class="w" x="341" y="336" width="3" height="3"/>
<rect class="k" x="341" y="338" width="1" height="1"/>
<rect class="k" x="343" y="338" width="1" height="1"/>
<rect class="w" x="347" y="254" width="3" height="3"/>
<rect class="k" x="349" y="254" width="1" height="1"/>
<rect class="w" x="347" y="260" width="3" height="3"/>
<rect class="k" x="347" y="262" width="1" height="1"/>
<rect class="k" x="347" y="260" width="1" height="1"/>
<rect class="w" x="347" y="266" width="3" height="3"/>
<rect class="k" x="347" y="266" width="1" height="1"/>
<rect class="w" x="347" y="324" width="3" height="3"/>
<rect class="k" x="347" y="326" width="1" height="1"/>
<rect class="k" x="347" y="324" width="1" height="1"/>
<rect class="w" x="347" y="330" width="3" height="3"/>
<rect class="k" x="347" y="330" width="1" height="1"/>
<rect class="w" x="347" y="336" width="3" height="3"/>
<rect class="k" x="347" y="338" width="1" height="1"/>
<rect class="k" x="349" y="338" width="1" height="1"/>
<rect class="w" x="353" y="254" width="3" height="3"/>
<rect class="k" x="353" y="254" width="1" height="1"/>
<rect class="w" x="353" y="260" width="3" height="3"/>
<rect class="k" x="353" y="260" width="1" height="1"/>
<rect class="k" x="355" y="260" width="1" height="1"/>
<rect class="k" x="353" y="262" width="1" height="1"/>
<rect class="w" x="353" y="266" width="3" height="3"/>
<rect class="k" x="355" y="268" width="1" height="1"/>
<rect class="k" x="353" y="266" width="1" height="1"/>
<rect class="w" x="353" y="324" width="3" height="3"/>
<rect class="k" x="353" y="324" width="1" height="1"/>
<rect class="k" x="355" y="324" width="1" height="1"/>
<rect class="k" x="353" y="326" width="1" height="1"/>
<rect class="w" x="353" y="330" width="3" height="3"/>
<rect class="k" x="355" y="332" width="1" height="1"/>
<rect class="k" x="353" y="330" width="1" height="1"/>
<rect class="w" x="353" y="336" width="3" height="3"/>
<rect class="k" x="353" y="338" width="1" height="1"/>
<rect class="k" x="355" y="338" width="1" height="1"/>
<rect class="w" x="359" y="254" width="3" height="3"/>
<rect class="k" x="359" y="254" width="1" height="1"/>
<rect class="w" x="359" y="260" width="3" height="3"/>
<rect class="k" x="361" y="260" width="1" height="1"/>
<rect class="w" x="359" y="266" width="3" height="3"/>
<rect class="k" x="361" y="266" width="1" height="1"/>
<rect class="k" x="359" y="268" width="1" height="1"/>
<rect class="w" x="359" y="324" width="3" height="3"/>
<rect class="k" x="361" y="324" width="1" height="1"/>
<rect class="w" x="359" y="330" width="3" height="3"/>
<rect class="k" x="361" y="330" width="1" height="1"/>
<rect class="k" x="359" y="332" width="1" height="1"/>
<rect class="w" x="359" y="336" width="3" height="3"/>
<rect class="k" x="359" y="338" width="1" height="1"/>
<rect class="k" x="361" y="338" width="1" height="1"/>
<rect class="w" x="365" y="254" width="3" height="3"/>
<rect class="k" x="365" y="254" width="1" height="1"/>
<rect class="k" x="367" y="254" width="1" height="1"/>
<rect class="k" x="365" y="256" width="1" height="1"/>
<rect class="w" x="365" y="260" width="3" height="3"/>
<rect class="k" x="365" y="262" width="1" height="1"/>
<rect class="w" x="365" y="266" width="3" height="3"/>
<rect class="k" x="365" y="266" width="1" height="1"/>
<rect class="w" x="365" y="324" width="3" height="3"/>
<rect class="k" x="365" y="326" width="1" height="1"/>
<rect class="w" x="365" y="330" width="3" height="3"/>
<rect class="k" x="365" y="330" width="1" height="1"/>
<rect class="w" x="365" y="336" width="3" height="3"/>
<rect class="k" x="365" y="338" width="1" height="1"/>
<rect class="k" x="367" y="338" width="1" height="1"/>
<rect class="w" x="370" y="254" width="3" height="3"/>
<rect class="k" x="372" y="256" width="1" height="1"/>
<rect class="w" x="370" y="260" width="3" height="3"/>
<rect class="k" x="372" y="262" width="1" height="1"/>
<rect class="k" x="370" y="260" width="1" height="1"/>
<rect class="w" x="370" y="266" width="3" height="3"/>
<rect class="k" x="370" y="268" width="1" height="1"/>
<rect class="k" x="370" y="266" width="1" height="1"/>
<rect class="w" x="370" y="272" width="3" height="3"/>
<rect class="k" x="370" y="274" width="1" height="1"/>
<rect class="k" x="372" y="274" width="1" height="1"/>
<rect class="w" x="370" y="278" width="3" height="3"/>
<rect class="k" x="370" y="280" width="1" height="1"/>
<rect class="w" x="370" y="283" width="3" height="3"/>
<rect class="k" x="372" y="283" width="1" height="1"/>
<rect class="k" x="370" y="285" width="1" height="1"/>
<rect class="w" x="370" y="289" width="3" height="3"/>
<rect class="k" x="372" y="289" width="1" height="1"/>
<rect class="k" x="372" y="291" width="1" height="1"/>
<rect class="w" x="370" y="295" width="3" height="3"/>
<rect class="k" x="372" y="295" width="1" height="1"/>
<rect class="w" x="370" y="301" width="3" height="3"/>
<rect class="k" x="370" y="301" width="1" height="1"/>
<rect class="w" x="370" y="307" width="3" height="3"/>
<rect class="k" x="370" y="307" width="1" height="1"/>
<rect class="w" x="370" y="313" width="3" height="3"/>
<rect class="k" x="370" y="313" width="1" height="1"/>
<rect class="k" x="372" y="313" width="1" height="1"/>
<rect class="k" x="370" y="315" width="1" height="1"/>
<rect class="w" x="370" y="318" width="3" height="3"/>
<rect class="k" x="372" y="320" width="1" height="1"/>
<rect class="w" x="370" y="324" width="3" height="3"/>
<rect class="k" x="372" y="326" width="1" height="1"/>
<rect class="k" x="370" y="324" width="1" height="1"/>
<rect class="w" x="370" y="330" width="3" height="3"/>
<rect class="k" x="370" y="332" width="1" height="1"/>
<rect class="k" x="370" y="330" width="1" height="1"/>
<rect class="w" x="370" y="336" width="3" height="3"/>
<rect class="k" x="370" y="338" width="1" height="1"/>
<rect class="k" x="372" y="338" width="1" height="1"/>
<rect class="w" x="376" y="254" width="3" height="3"/>
<rect class="k" x="378" y="256" width="1" height="1"/>
<rect class="k" x="376" y="254" width="1" height="1"/>
<rect class="w" x="376" y="260" width="3" height="3"/>
<rect class="k" x="376" y="260" width="1" height="1"/>
<rect class="w" x="376" y="266" width="3" height="3"/>
<rect class="k" x="378" y="266" width="1" height="1"/>
<rect class="k" x="378" y="268" width="1" height="1"/>
<rect class="w" x="376" y="272" width="3" height="3"/>
<rect class="k" x="376" y="274" width="1" height="1"/>
<rect class="k" x="378" y="274" width="1" height="1"/>
<rect class="w" x="376" y="278" width="3" height="3"/>
<rect class="k" x="378" y="280" width="1" height="1"/>
<rect class="w" x="376" y="283" width="3" height="3"/>
<rect class="k" x="376" y="283" width="1" height="1"/>
<rect class="w" x="376" y="289" width="3" height="3"/>
<rect class="k" x="378" y="289" width="1" height="1"/>
<rect class="k" x="376" y="291" width="1" height="1"/>
<rect class="w" x="376" y="295" width="3" height="3"/>
<rect class="k" x="376" y="297" width="1" height="1"/>
<rect class="k" x="376" y="295" width="1" height="1"/>
<rect class="w" x="376" y="301" width="3" height="3"/>
<rect class="k" x="376" y="301" width="1" height="1"/>
<rect class="k" x="378" y="301" width="1" height="1"/>
<rect class="k" x="376" y="303" width="1" height="1"/>
<rect class="w" x="376" y="307" width="3" height="3"/>
<rect class="k" x="378" y="307" width="1" height="1"/>
<rect class="w" x="376" y="313" width="3" height="3"/>
<rect class="k" x="376" y="315" width="1" height="1"/>
<rect class="w" x="376" y="318" width="3" height="3"/>
<rect class="k" x="378" y="320" width="1" height="1"/>
<rect class="k" x="376" y="318" width="1" height="1"/>
<rect class="w" x="376" y="324" width="3" height="3"/>
<rect class="k" x="376" y="324" width="1" height="1"/>
<rect class="w" x="376" y="330" width="3" height="3"/>
<rect class="k" x="378" y="330" width="1" height="1"/>
<rect class="k" x="378" y="332" width="1" height="1"/>
<rect class="w" x="376" y="336" width="3" height="3"/>
<rect class="k" x="376" y="338" width="1" height="1"/>
<rect class="k" x="378" y="338" width="1" height="1"/>
<rect class="w" x="382" y="254" width="3" height="3"/>
<rect class="k" x="382" y="256" width="1" height="1"/>
<rect class="k" x="382" y="254" width="1" height="1"/>
<rect class="w" x="382" y="260" width="3" height="3"/>
<rect class="k" x="384" y="260" width="1" height="1"/>
<rect class="k" x="384" y="262" width="1" height="1"/>
<rect class="w" x="382" y="266" width="3" height="3"/>
<rect class="k" x="382" y="266" width="1" height="1"/>
<rect class="k" x="384" y="266" width="1" height="1"/>
<rect class="k" x="382" y="268" width="1" height="1"/>
<rect class="w" x="382" y="272" width="3" height="3"/>
<rect class="k" x="382" y="274" width="1" height="1"/>
<rect class="k" x="384" y="274" width="1" height="1"/>
<rect class="w" x="382" y="278" width="3" height="3"/>
<rect class="k" x="384" y="278" width="1" height="1"/>
<rect class="w" x="382" y="283" width="3" height="3"/>
<rect class="k" x="384" y="285" width="1" height="1"/>
<rect class="w" x="382" y="289" width="3" height="3"/>
<rect class="k" x="382" y="291" width="1" height="1"/>
<rect class="w" x="382" y="295" width="3" height="3"/>
<rect class="k" x="382" y="295" width="1" height="1"/>
<rect class="w" x="382" y="301" width="3" height="3"/>
<rect class="k" x="384" y="303" width="1" height="1"/>
<rect class="k" x="382" y="301" width="1" height="1"/>
<rect class="w" x="382" y="307" width="3" height="3"/>
<rect class="k" x="384" y="307" width="1" height="1"/>
<rect class="k" x="382" y="309" width="1" height="1"/>
<rect class="w" x="382" y="313" width="3" height="3"/>
<rect class="k" x="382" y="313" width="1" height="1"/>
<rect class="w" x="382" y="318" width="3" height="3"/>
<rect class="k" x="382" y="320" width="1" height="1"/>
<rect class="k" x="382" y="318" width="1" height="1"/>
<rect class="w" x="382" y="324" width="3" height="3"/>
<rect class="k" x="384" y="324" width="1" height="1"/>
<rect class="k" x="384" y="326" width="1" height="1"/>
<rect class="w" x="382" y="330" width="3" height="3"/>
<rect class="k" x="382" y="330" width="1" height="1"/>
<rect class="k" x="384" y="330" width="1" height="1"/>
<rect class="k" x="382" y="332" width="1" height="1"/>
<rect class="w" x="382" y="336" width="3" height="3"/>
<rect class="k" x="382" y="338" width="1" height="1"/>
<rect class="k" x="384" y="338" width="1" height="1"/>
<rect class="w" x="320" y="274" width="46" height="46"/>
<circle class="k aa" cx="361.3" cy="277.4" r="2.5"/>
<rect class="k aa" x="326" y="287" width="33" height="19" rx="4.5" ry="4.5"/>
<rect class="w aa" x="328.5" y="289.5" width="28.2" height="13.8" rx="2.5" ry="2.5"/>
<text transform="translate(0,300.7) scale(0.72,1)" font-size="14" x="463.89 477.5 489.17">NPU</text>
<polygon class="k aa" points="345,384 442.5,384 452,393.5 452,491 345,491" />
<circle class="w aa" cx="441" cy="395.1" r="4"/>
<rect class="w" x="384" y="431" width="28" height="14"/>
<text transform="translate(0,442) scale(0.74,1)" font-size="14" x="525.95 537.57 551.22">CPU</text>
<rect class="k" x="585" y="368" width="127" height="43"/>
<rect class="w" x="710" y="384" width="2" height="12"/>
<rect class="w aa" x="634" y="383" width="28" height="14" rx="1.5" ry="1.5"/>
<text transform="translate(0,393) scale(0.74,1)" font-size="14" x="864.59 876.49 888.51">KBD</text>
<path class="aa" d="M727.5 380.5L734 380.5L736 382.5L740 382.5L742 380.5L750 380.5L752 382.5L755.5 382.5L757.5 380.5L764.5 380.5L766.5 382.5L766.5 405.5L764.5 407.5L757.5 407.5L755.5 405.5L752 405.5L750 407.5L742 407.5L740 405.5L736 405.5L734 407.5L727.5 407.5L725.5 405.5L725.5 382.5Z" fill="url(#ht)" stroke="#000" stroke-width="1" stroke-linejoin="round"/>
<polygon class="k" points="755,444 779,444 779,439 782,439 782,437 786,437 786,488 782,488 782,486 779,486 779,481 755,481" />
<rect class="k" x="752" y="450" width="4" height="25"/>
<rect class="w" x="753" y="451" width="2" height="23"/>
<rect class="k" x="754" y="452" width="1" height="1"/>
<rect class="k" x="754" y="465" width="1" height="1"/>
<rect class="k" x="754" y="454" width="1" height="1"/>
<rect class="k" x="754" y="467" width="1" height="1"/>
<rect class="k" x="754" y="456" width="1" height="1"/>
<rect class="k" x="754" y="469" width="1" height="1"/>
<rect class="k" x="754" y="458" width="1" height="1"/>
<rect class="k" x="754" y="471" width="1" height="1"/>
<rect class="k" x="754" y="460" width="1" height="1"/>
<rect class="k" x="754" y="473" width="1" height="1"/>
<rect class="k" x="754" y="460" width="1" height="5"/>
<rect class="k" x="748" y="452" width="5" height="9"/>
<rect class="w" x="749" y="453" width="3" height="7"/>
<rect class="k" x="748" y="464" width="5" height="8"/>
<rect class="w" x="749" y="465" width="3" height="6"/>
<rect class="k" x="604" y="483" width="112" height="24"/>
<rect class="w" x="605" y="484" width="110" height="22"/>
<rect class="k" x="605" y="490" width="110" height="1"/>
<rect class="k" x="606" y="486" width="7" height="3"/>
<rect class="w" x="607" y="487" width="5" height="1"/>
<rect class="k" x="608" y="489" width="3" height="1"/>
<rect class="k" x="606" y="493" width="7" height="2"/>
<rect class="k" x="615" y="486" width="7" height="3"/>
<rect class="w" x="616" y="487" width="5" height="1"/>
<rect class="k" x="617" y="489" width="3" height="1"/>
<rect class="k" x="615" y="493" width="7" height="2"/>
<rect class="k" x="625" y="486" width="7" height="3"/>
<rect class="w" x="626" y="487" width="5" height="1"/>
<rect class="k" x="627" y="489" width="3" height="1"/>
<rect class="k" x="625" y="493" width="7" height="2"/>
<rect class="k" x="634" y="486" width="7" height="3"/>
<rect class="w" x="635" y="487" width="5" height="1"/>
<rect class="k" x="636" y="489" width="3" height="1"/>
<rect class="k" x="634" y="493" width="7" height="2"/>
<rect class="k" x="643" y="486" width="7" height="3"/>
<rect class="w" x="644" y="487" width="5" height="1"/>
<rect class="k" x="645" y="489" width="3" height="1"/>
<rect class="k" x="643" y="493" width="7" height="2"/>
<rect class="k" x="652" y="486" width="7" height="3"/>
<rect class="w" x="653" y="487" width="5" height="1"/>
<rect class="k" x="654" y="489" width="3" height="1"/>
<rect class="k" x="652" y="493" width="7" height="2"/>
<rect class="k" x="661" y="486" width="7" height="3"/>
<rect class="w" x="662" y="487" width="5" height="1"/>
<rect class="k" x="663" y="489" width="3" height="1"/>
<rect class="k" x="661" y="493" width="7" height="2"/>
<rect class="k" x="671" y="486" width="7" height="3"/>
<rect class="w" x="672" y="487" width="5" height="1"/>
<rect class="k" x="673" y="489" width="3" height="1"/>
<rect class="k" x="671" y="493" width="7" height="2"/>
<rect class="k" x="680" y="486" width="7" height="3"/>
<rect class="w" x="681" y="487" width="5" height="1"/>
<rect class="k" x="682" y="489" width="3" height="1"/>
<rect class="k" x="680" y="493" width="7" height="2"/>
<rect class="k" x="689" y="486" width="7" height="3"/>
<rect class="w" x="690" y="487" width="5" height="1"/>
<rect class="k" x="691" y="489" width="3" height="1"/>
<rect class="k" x="689" y="493" width="7" height="2"/>
<rect class="k" x="698" y="486" width="7" height="3"/>
<rect class="w" x="699" y="487" width="5" height="1"/>
<rect class="k" x="700" y="489" width="3" height="1"/>
<rect class="k" x="698" y="493" width="7" height="2"/>
<rect class="k" x="707" y="486" width="7" height="3"/>
<rect class="w" x="708" y="487" width="5" height="1"/>
<rect class="k" x="709" y="489" width="3" height="1"/>
<rect class="k" x="707" y="493" width="7" height="2"/>
<rect class="k" x="610" y="496" width="7" height="8"/>
<rect class="w" x="611" y="497" width="5" height="6"/>
<rect class="k" x="619" y="496" width="7" height="8"/>
<rect class="w" x="620" y="497" width="5" height="6"/>
<rect class="k" x="629" y="496" width="7" height="8"/>
<rect class="w" x="630" y="497" width="5" height="6"/>
<rect class="k" x="638" y="496" width="7" height="8"/>
<rect class="w" x="639" y="497" width="5" height="6"/>
<rect class="k" x="647" y="496" width="7" height="8"/>
<rect class="w" x="648" y="497" width="5" height="6"/>
<rect class="k" x="656" y="496" width="7" height="8"/>
<rect class="w" x="657" y="497" width="5" height="6"/>
<rect class="k" x="666" y="496" width="7" height="8"/>
<rect class="w" x="667" y="497" width="5" height="6"/>
<rect class="k" x="675" y="496" width="7" height="8"/>
<rect class="w" x="676" y="497" width="5" height="6"/>
<rect class="k" x="684" y="496" width="7" height="8"/>
<rect class="w" x="685" y="497" width="5" height="6"/>
<rect class="k" x="694" y="496" width="7" height="8"/>
<rect class="w" x="695" y="497" width="5" height="6"/>
<rect class="k" x="703" y="496" width="9" height="8"/>
<rect class="w" x="704" y="497" width="7" height="6"/>
<rect class="k" x="604" y="497" width="2" height="1"/>
<rect class="k" x="604" y="501" width="2" height="1"/>
<rect class="k" x="605" y="498" width="1" height="3"/>
<rect class="w" x="604" y="498" width="1" height="3"/>
<rect class="k" x="714" y="497" width="2" height="1"/>
<rect class="k" x="714" y="501" width="2" height="1"/>
<rect class="k" x="714" y="498" width="1" height="3"/>
<rect class="w" x="715" y="498" width="1" height="3"/>
<rect class="k" x="44" y="282" width="84" height="24"/>
<rect class="w" x="46" y="284" width="3" height="5"/>
<rect class="w" x="46" y="299" width="3" height="5"/>
<rect class="w" x="52" y="284" width="3" height="5"/>
<rect class="w" x="52" y="299" width="3" height="5"/>
<rect class="w" x="58" y="284" width="3" height="5"/>
<rect class="w" x="58" y="299" width="3" height="5"/>
<rect class="w" x="64" y="284" width="3" height="5"/>
<rect class="w" x="64" y="299" width="3" height="5"/>
<rect class="w" x="70" y="284" width="3" height="5"/>
<rect class="w" x="70" y="299" width="3" height="5"/>
<rect class="w" x="76" y="284" width="3" height="5"/>
<rect class="w" x="76" y="299" width="3" height="5"/>
<rect class="w" x="82" y="284" width="3" height="5"/>
<rect class="w" x="82" y="299" width="3" height="5"/>
<rect class="w" x="88" y="284" width="3" height="5"/>
<rect class="w" x="88" y="299" width="3" height="5"/>
<rect class="w" x="93" y="284" width="3" height="5"/>
<rect class="w" x="93" y="299" width="3" height="5"/>
<rect class="w" x="99" y="284" width="3" height="5"/>
<rect class="w" x="99" y="299" width="3" height="5"/>
<rect class="w" x="105" y="284" width="3" height="5"/>
<rect class="w" x="105" y="299" width="3" height="5"/>
<rect class="w" x="111" y="284" width="3" height="5"/>
<rect class="w" x="111" y="299" width="3" height="5"/>
<rect class="w" x="117" y="284" width="3" height="5"/>
<rect class="w" x="117" y="299" width="3" height="5"/>
<rect class="w" x="123" y="284" width="3" height="5"/>
<rect class="w" x="123" y="299" width="3" height="5"/>
<rect class="w" x="49" y="291" width="33" height="6"/>
<rect class="w" x="87" y="291" width="34" height="6"/>
<polygon class="w aa" points="128.5,291.5 125.4,294 128.5,296.5" />
<rect class="k" x="44" y="308" width="84" height="25"/>
<rect class="w" x="46" y="310" width="3" height="5"/>
<rect class="w" x="46" y="325" width="3" height="6"/>
<rect class="w" x="52" y="310" width="3" height="5"/>
<rect class="w" x="52" y="325" width="3" height="6"/>
<rect class="w" x="58" y="310" width="3" height="5"/>
<rect class="w" x="58" y="325" width="3" height="6"/>
<rect class="w" x="64" y="310" width="3" height="5"/>
<rect class="w" x="64" y="325" width="3" height="6"/>
<rect class="w" x="70" y="310" width="3" height="5"/>
<rect class="w" x="70" y="325" width="3" height="6"/>
<rect class="w" x="76" y="310" width="3" height="5"/>
<rect class="w" x="76" y="325" width="3" height="6"/>
<rect class="w" x="82" y="310" width="3" height="5"/>
<rect class="w" x="82" y="325" width="3" height="6"/>
<rect class="w" x="88" y="310" width="3" height="5"/>
<rect class="w" x="88" y="325" width="3" height="6"/>
<rect class="w" x="93" y="310" width="3" height="5"/>
<rect class="w" x="93" y="325" width="3" height="6"/>
<rect class="w" x="99" y="310" width="3" height="5"/>
<rect class="w" x="99" y="325" width="3" height="6"/>
<rect class="w" x="105" y="310" width="3" height="5"/>
<rect class="w" x="105" y="325" width="3" height="6"/>
<rect class="w" x="111" y="310" width="3" height="5"/>
<rect class="w" x="111" y="325" width="3" height="6"/>
<rect class="w" x="117" y="310" width="3" height="5"/>
<rect class="w" x="117" y="325" width="3" height="6"/>
<rect class="w" x="123" y="310" width="3" height="5"/>
<rect class="w" x="123" y="325" width="3" height="6"/>
<rect class="w" x="49" y="318" width="33" height="5"/>
<rect class="w" x="87" y="318" width="34" height="5"/>
<polygon class="w aa" points="128.5,318 125.4,320.5 128.5,323" />
<rect class="k" x="44" y="334" width="84" height="25"/>
<rect class="w" x="46" y="336" width="3" height="5"/>
<rect class="w" x="46" y="351" width="3" height="6"/>
<rect class="w" x="52" y="336" width="3" height="5"/>
<rect class="w" x="52" y="351" width="3" height="6"/>
<rect class="w" x="58" y="336" width="3" height="5"/>
<rect class="w" x="58" y="351" width="3" height="6"/>
<rect class="w" x="64" y="336" width="3" height="5"/>
<rect class="w" x="64" y="351" width="3" height="6"/>
<rect class="w" x="70" y="336" width="3" height="5"/>
<rect class="w" x="70" y="351" width="3" height="6"/>
<rect class="w" x="76" y="336" width="3" height="5"/>
<rect class="w" x="76" y="351" width="3" height="6"/>
<rect class="w" x="82" y="336" width="3" height="5"/>
<rect class="w" x="82" y="351" width="3" height="6"/>
<rect class="w" x="88" y="336" width="3" height="5"/>
<rect class="w" x="88" y="351" width="3" height="6"/>
<rect class="w" x="93" y="336" width="3" height="5"/>
<rect class="w" x="93" y="351" width="3" height="6"/>
<rect class="w" x="99" y="336" width="3" height="5"/>
<rect class="w" x="99" y="351" width="3" height="6"/>
<rect class="w" x="105" y="336" width="3" height="5"/>
<rect class="w" x="105" y="351" width="3" height="6"/>
<rect class="w" x="111" y="336" width="3" height="5"/>
<rect class="w" x="111" y="351" width="3" height="6"/>
<rect class="w" x="117" y="336" width="3" height="5"/>
<rect class="w" x="117" y="351" width="3" height="6"/>
<rect class="w" x="123" y="336" width="3" height="5"/>
<rect class="w" x="123" y="351" width="3" height="6"/>
<rect class="w" x="49" y="344" width="33" height="5"/>
<rect class="w" x="87" y="344" width="34" height="5"/>
<polygon class="w aa" points="128.5,344 125.4,346.5 128.5,349" />
<rect class="k" x="45" y="384" width="85" height="25"/>
<rect class="w" x="48" y="386" width="3" height="5"/>
<rect class="w" x="48" y="401" width="3" height="6"/>
<rect class="w" x="54" y="386" width="3" height="5"/>
<rect class="w" x="54" y="401" width="3" height="6"/>
<rect class="w" x="60" y="386" width="3" height="5"/>
<rect class="w" x="60" y="401" width="3" height="6"/>
<rect class="w" x="66" y="386" width="3" height="5"/>
<rect class="w" x="66" y="401" width="3" height="6"/>
<rect class="w" x="71" y="386" width="3" height="5"/>
<rect class="w" x="71" y="401" width="3" height="6"/>
<rect class="w" x="77" y="386" width="3" height="5"/>
<rect class="w" x="77" y="401" width="3" height="6"/>
<rect class="w" x="83" y="386" width="3" height="5"/>
<rect class="w" x="83" y="401" width="3" height="6"/>
<rect class="w" x="89" y="386" width="3" height="5"/>
<rect class="w" x="89" y="401" width="3" height="6"/>
<rect class="w" x="95" y="386" width="3" height="5"/>
<rect class="w" x="95" y="401" width="3" height="6"/>
<rect class="w" x="100" y="386" width="3" height="5"/>
<rect class="w" x="100" y="401" width="3" height="6"/>
<rect class="w" x="106" y="386" width="3" height="5"/>
<rect class="w" x="106" y="401" width="3" height="6"/>
<rect class="w" x="112" y="386" width="3" height="5"/>
<rect class="w" x="112" y="401" width="3" height="6"/>
<rect class="w" x="118" y="386" width="3" height="5"/>
<rect class="w" x="118" y="401" width="3" height="6"/>
<rect class="w" x="124" y="386" width="3" height="5"/>
<rect class="w" x="124" y="401" width="3" height="6"/>
<rect class="w" x="51" y="394" width="32" height="5"/>
<rect class="w" x="88" y="394" width="34" height="5"/>
<polygon class="w aa" points="130.5,394 127.4,396.5 130.5,399" />
<rect class="k" x="45" y="410" width="85" height="25"/>
<rect class="w" x="48" y="412" width="3" height="5"/>
<rect class="w" x="48" y="427" width="3" height="6"/>
<rect class="w" x="54" y="412" width="3" height="5"/>
<rect class="w" x="54" y="427" width="3" height="6"/>
<rect class="w" x="60" y="412" width="3" height="5"/>
<rect class="w" x="60" y="427" width="3" height="6"/>
<rect class="w" x="66" y="412" width="3" height="5"/>
<rect class="w" x="66" y="427" width="3" height="6"/>
<rect class="w" x="71" y="412" width="3" height="5"/>
<rect class="w" x="71" y="427" width="3" height="6"/>
<rect class="w" x="77" y="412" width="3" height="5"/>
<rect class="w" x="77" y="427" width="3" height="6"/>
<rect class="w" x="83" y="412" width="3" height="5"/>
<rect class="w" x="83" y="427" width="3" height="6"/>
<rect class="w" x="89" y="412" width="3" height="5"/>
<rect class="w" x="89" y="427" width="3" height="6"/>
<rect class="w" x="95" y="412" width="3" height="5"/>
<rect class="w" x="95" y="427" width="3" height="6"/>
<rect class="w" x="100" y="412" width="3" height="5"/>
<rect class="w" x="100" y="427" width="3" height="6"/>
<rect class="w" x="106" y="412" width="3" height="5"/>
<rect class="w" x="106" y="427" width="3" height="6"/>
<rect class="w" x="112" y="412" width="3" height="5"/>
<rect class="w" x="112" y="427" width="3" height="6"/>
<rect class="w" x="118" y="412" width="3" height="5"/>
<rect class="w" x="118" y="427" width="3" height="6"/>
<rect class="w" x="124" y="412" width="3" height="5"/>
<rect class="w" x="124" y="427" width="3" height="6"/>
<rect class="w" x="51" y="420" width="32" height="5"/>
<rect class="w" x="88" y="420" width="34" height="5"/>
<polygon class="w aa" points="130.5,420 127.4,422.5 130.5,425" />
<rect class="k" x="45" y="437" width="85" height="25"/>
<rect class="w" x="48" y="439" width="3" height="5"/>
<rect class="w" x="48" y="454" width="3" height="6"/>
<rect class="w" x="54" y="439" width="3" height="5"/>
<rect class="w" x="54" y="454" width="3" height="6"/>
<rect class="w" x="60" y="439" width="3" height="5"/>
<rect class="w" x="60" y="454" width="3" height="6"/>
<rect class="w" x="66" y="439" width="3" height="5"/>
<rect class="w" x="66" y="454" width="3" height="6"/>
<rect class="w" x="71" y="439" width="3" height="5"/>
<rect class="w" x="71" y="454" width="3" height="6"/>
<rect class="w" x="77" y="439" width="3" height="5"/>
<rect class="w" x="77" y="454" width="3" height="6"/>
<rect class="w" x="83" y="439" width="3" height="5"/>
<rect class="w" x="83" y="454" width="3" height="6"/>
<rect class="w" x="89" y="439" width="3" height="5"/>
<rect class="w" x="89" y="454" width="3" height="6"/>
<rect class="w" x="95" y="439" width="3" height="5"/>
<rect class="w" x="95" y="454" width="3" height="6"/>
<rect class="w" x="100" y="439" width="3" height="5"/>
<rect class="w" x="100" y="454" width="3" height="6"/>
<rect class="w" x="106" y="439" width="3" height="5"/>
<rect class="w" x="106" y="454" width="3" height="6"/>
<rect class="w" x="112" y="439" width="3" height="5"/>
<rect class="w" x="112" y="454" width="3" height="6"/>
<rect class="w" x="118" y="439" width="3" height="5"/>
<rect class="w" x="118" y="454" width="3" height="6"/>
<rect class="w" x="124" y="439" width="3" height="5"/>
<rect class="w" x="124" y="454" width="3" height="6"/>
<rect class="w" x="51" y="447" width="32" height="5"/>
<rect class="w" x="88" y="447" width="34" height="5"/>
<polygon class="w aa" points="130.5,447 127.4,449.5 130.5,452" />
<rect class="k" x="45" y="463" width="85" height="24"/>
<rect class="w" x="48" y="465" width="3" height="5"/>
<rect class="w" x="48" y="480" width="3" height="5"/>
<rect class="w" x="54" y="465" width="3" height="5"/>
<rect class="w" x="54" y="480" width="3" height="5"/>
<rect class="w" x="60" y="465" width="3" height="5"/>
<rect class="w" x="60" y="480" width="3" height="5"/>
<rect class="w" x="66" y="465" width="3" height="5"/>
<rect class="w" x="66" y="480" width="3" height="5"/>
<rect class="w" x="71" y="465" width="3" height="5"/>
<rect class="w" x="71" y="480" width="3" height="5"/>
<rect class="w" x="77" y="465" width="3" height="5"/>
<rect class="w" x="77" y="480" width="3" height="5"/>
<rect class="w" x="83" y="465" width="3" height="5"/>
<rect class="w" x="83" y="480" width="3" height="5"/>
<rect class="w" x="89" y="465" width="3" height="5"/>
<rect class="w" x="89" y="480" width="3" height="5"/>
<rect class="w" x="95" y="465" width="3" height="5"/>
<rect class="w" x="95" y="480" width="3" height="5"/>
<rect class="w" x="100" y="465" width="3" height="5"/>
<rect class="w" x="100" y="480" width="3" height="5"/>
<rect class="w" x="106" y="465" width="3" height="5"/>
<rect class="w" x="106" y="480" width="3" height="5"/>
<rect class="w" x="112" y="465" width="3" height="5"/>
<rect class="w" x="112" y="480" width="3" height="5"/>
<rect class="w" x="118" y="465" width="3" height="5"/>
<rect class="w" x="118" y="480" width="3" height="5"/>
<rect class="w" x="124" y="465" width="3" height="5"/>
<rect class="w" x="124" y="480" width="3" height="5"/>
<rect class="w" x="51" y="472" width="32" height="6"/>
<rect class="w" x="88" y="472" width="34" height="6"/>
<polygon class="w aa" points="130.5,472.5 127.4,475 130.5,477.5" />
<rect class="k" x="45" y="489" width="85" height="24"/>
<rect class="w" x="48" y="491" width="3" height="5"/>
<rect class="w" x="48" y="506" width="3" height="5"/>
<rect class="w" x="54" y="491" width="3" height="5"/>
<rect class="w" x="54" y="506" width="3" height="5"/>
<rect class="w" x="60" y="491" width="3" height="5"/>
<rect class="w" x="60" y="506" width="3" height="5"/>
<rect class="w" x="66" y="491" width="3" height="5"/>
<rect class="w" x="66" y="506" width="3" height="5"/>
<rect class="w" x="71" y="491" width="3" height="5"/>
<rect class="w" x="71" y="506" width="3" height="5"/>
<rect class="w" x="77" y="491" width="3" height="5"/>
<rect class="w" x="77" y="506" width="3" height="5"/>
<rect class="w" x="83" y="491" width="3" height="5"/>
<rect class="w" x="83" y="506" width="3" height="5"/>
<rect class="w" x="89" y="491" width="3" height="5"/>
<rect class="w" x="89" y="506" width="3" height="5"/>
<rect class="w" x="95" y="491" width="3" height="5"/>
<rect class="w" x="95" y="506" width="3" height="5"/>
<rect class="w" x="100" y="491" width="3" height="5"/>
<rect class="w" x="100" y="506" width="3" height="5"/>
<rect class="w" x="106" y="491" width="3" height="5"/>
<rect class="w" x="106" y="506" width="3" height="5"/>
<rect class="w" x="112" y="491" width="3" height="5"/>
<rect class="w" x="112" y="506" width="3" height="5"/>
<rect class="w" x="118" y="491" width="3" height="5"/>
<rect class="w" x="118" y="506" width="3" height="5"/>
<rect class="w" x="124" y="491" width="3" height="5"/>
<rect class="w" x="124" y="506" width="3" height="5"/>
<rect class="w" x="51" y="498" width="32" height="6"/>
<rect class="w" x="88" y="498" width="34" height="6"/>
<polygon class="w aa" points="130.5,498.5 127.4,501 130.5,503.5" />
<rect class="k" x="179" y="402" width="24" height="84"/>
<rect class="w" x="181" y="404" width="5" height="3"/>
<rect class="w" x="196" y="404" width="5" height="3"/>
<rect class="w" x="181" y="410" width="5" height="3"/>
<rect class="w" x="196" y="410" width="5" height="3"/>
<rect class="w" x="181" y="416" width="5" height="3"/>
<rect class="w" x="196" y="416" width="5" height="3"/>
<rect class="w" x="181" y="422" width="5" height="3"/>
<rect class="w" x="196" y="422" width="5" height="3"/>
<rect class="w" x="181" y="428" width="5" height="3"/>
<rect class="w" x="196" y="428" width="5" height="3"/>
<rect class="w" x="181" y="434" width="5" height="3"/>
<rect class="w" x="196" y="434" width="5" height="3"/>
<rect class="w" x="181" y="440" width="5" height="3"/>
<rect class="w" x="196" y="440" width="5" height="3"/>
<rect class="w" x="181" y="445" width="5" height="3"/>
<rect class="w" x="196" y="445" width="5" height="3"/>
<rect class="w" x="181" y="451" width="5" height="3"/>
<rect class="w" x="196" y="451" width="5" height="3"/>
<rect class="w" x="181" y="457" width="5" height="3"/>
<rect class="w" x="196" y="457" width="5" height="3"/>
<rect class="w" x="181" y="463" width="5" height="3"/>
<rect class="w" x="196" y="463" width="5" height="3"/>
<rect class="w" x="181" y="469" width="5" height="3"/>
<rect class="w" x="196" y="469" width="5" height="3"/>
<rect class="w" x="181" y="475" width="5" height="3"/>
<rect class="w" x="196" y="475" width="5" height="3"/>
<rect class="w" x="181" y="481" width="5" height="3"/>
<rect class="w" x="196" y="481" width="5" height="3"/>
<rect class="w" x="188" y="408" width="7" height="73"/>
<polygon class="w aa" points="188,401.5 195,401.5 191.5,405.5" />
<rect class="k" x="215" y="421" width="25" height="65"/>
<rect class="w" x="217" y="423" width="5" height="3"/>
<rect class="w" x="233" y="423" width="5" height="3"/>
<rect class="w" x="217" y="429" width="5" height="3"/>
<rect class="w" x="233" y="429" width="5" height="3"/>
<rect class="w" x="217" y="435" width="5" height="3"/>
<rect class="w" x="233" y="435" width="5" height="3"/>
<rect class="w" x="217" y="441" width="5" height="3"/>
<rect class="w" x="233" y="441" width="5" height="3"/>
<rect class="w" x="217" y="446" width="5" height="3"/>
<rect class="w" x="233" y="446" width="5" height="3"/>
<rect class="w" x="217" y="452" width="5" height="3"/>
<rect class="w" x="233" y="452" width="5" height="3"/>
<rect class="w" x="217" y="458" width="5" height="3"/>
<rect class="w" x="233" y="458" width="5" height="3"/>
<rect class="w" x="217" y="464" width="5" height="3"/>
<rect class="w" x="233" y="464" width="5" height="3"/>
<rect class="w" x="217" y="470" width="5" height="3"/>
<rect class="w" x="233" y="470" width="5" height="3"/>
<rect class="w" x="217" y="476" width="5" height="3"/>
<rect class="w" x="233" y="476" width="5" height="3"/>
<rect class="w" x="217" y="482" width="5" height="3"/>
<rect class="w" x="233" y="482" width="5" height="3"/>
<rect class="w" x="225" y="427" width="5" height="55"/>
<polygon class="w aa" points="225,420.5 230,420.5 227.5,424.5" />
<polyline class="ln aa" points="179.5,486 184.5,494.5 207.5,494.5 210.5,499.5 213.5,494.5 233.5,494.5 239.5,486" stroke-width="1" />
<rect class="k" x="15" y="45" width="7" height="13"/>
<rect class="w" x="16" y="46" width="2" height="5"/>
<rect class="w" x="16" y="52" width="2" height="5"/>
<rect class="k" x="15" y="112" width="7" height="14"/>
<rect class="w" x="16" y="113" width="1" height="12"/>
<rect class="w" x="16" y="113" width="5" height="1"/>
<rect class="w" x="16" y="119" width="5" height="1"/>
<rect class="w" x="16" y="124" width="5" height="1"/>
<rect class="k" x="26" y="112" width="6" height="14"/>
<rect class="w" x="27" y="113" width="4" height="1"/>
<rect class="w" x="27" y="119" width="4" height="1"/>
<rect class="w" x="27" y="124" width="4" height="1"/>
<rect class="k" x="15" y="189" width="7" height="26"/>
<rect class="w" x="16" y="190" width="5" height="1"/>
<rect class="w" x="17" y="192" width="3" height="3"/>
<rect class="w" x="16" y="196" width="5" height="1"/>
<rect class="w" x="16" y="201" width="5" height="2"/>
<rect class="w" x="16" y="207" width="5" height="2"/>
<rect class="w" x="16" y="213" width="5" height="1"/>
<rect class="k" x="26" y="189" width="6" height="31"/>
<rect class="w" x="27" y="190" width="4" height="1"/>
<rect class="w" x="28" y="192" width="2" height="2"/>
<rect class="w" x="27" y="195" width="4" height="1"/>
<rect class="w" x="27" y="201" width="4" height="1"/>
<rect class="w" x="27" y="207" width="4" height="1"/>
<rect class="w" x="27" y="212" width="4" height="2"/>
<rect class="w" x="27" y="218" width="4" height="1"/>
<rect class="k" x="257" y="249" width="13" height="6"/>
<rect class="w" x="258" y="250" width="2" height="4"/>
<rect class="w" x="261" y="250" width="2" height="4"/>
<rect class="k" x="101" y="369" width="13" height="7"/>
<rect class="w" x="107" y="370" width="2" height="5"/>
<rect class="k" x="226" y="378" width="11" height="20"/>
<rect class="w" x="227" y="379" width="1" height="5"/>
<rect class="w" x="227" y="386" width="1" height="5"/>
<rect class="w" x="227" y="392" width="1" height="5"/>
<rect class="w" x="231" y="379" width="1" height="5"/>
<rect class="w" x="231" y="386" width="1" height="5"/>
<rect class="w" x="231" y="392" width="1" height="5"/>
<rect class="w" x="235" y="379" width="1" height="5"/>
<rect class="w" x="235" y="386" width="1" height="5"/>
<rect class="w" x="235" y="392" width="1" height="5"/>
<rect class="w" x="227" y="383" width="9" height="1"/>
<rect class="w" x="227" y="392" width="9" height="1"/>
<rect class="k" x="247" y="412" width="19" height="7"/>
<rect class="w" x="248" y="413" width="17" height="5"/>
<rect class="k" x="248" y="412" width="5" height="5"/>
<rect class="k" x="254" y="412" width="5" height="5"/>
<rect class="k" x="260" y="413" width="5" height="4"/>
<rect class="w" x="261" y="414" width="3" height="2"/>
<rect class="k" x="257" y="434" width="20" height="7"/>
<rect class="w" x="258" y="435" width="18" height="5"/>
<rect class="k" x="259" y="435" width="4" height="4"/>
<rect class="k" x="265" y="435" width="4" height="4"/>
<rect class="k" x="270" y="435" width="5" height="4"/>
<rect class="w" x="271" y="436" width="3" height="2"/>
<rect class="k" x="257" y="446" width="20" height="7"/>
<rect class="w" x="258" y="447" width="18" height="5"/>
<rect class="k" x="259" y="447" width="4" height="4"/>
<rect class="k" x="265" y="447" width="4" height="4"/>
<rect class="k" x="270" y="447" width="5" height="4"/>
<rect class="w" x="271" y="448" width="3" height="2"/>
<rect class="k" x="266" y="458" width="11" height="7"/>
<rect class="w" x="271" y="459" width="2" height="5"/>
<rect class="w" x="275" y="459" width="1" height="5"/>
<rect class="k" x="618" y="435" width="19" height="7"/>
<rect class="w" x="619" y="436" width="5" height="5"/>
<rect class="k" x="621" y="438" width="1" height="1"/>
<rect class="w" x="626" y="436" width="1" height="5"/>
<rect class="w" x="631" y="436" width="1" height="5"/>
<rect class="k" x="702" y="435" width="14" height="7"/>
<rect class="w" x="704" y="436" width="1" height="5"/>
<rect class="w" x="708" y="436" width="1" height="5"/>
<rect class="w" x="713" y="436" width="2" height="5"/>
<rect class="k" x="702" y="463" width="25" height="7"/>
<rect class="w" x="703" y="464" width="23" height="1"/>
<rect class="w" x="708" y="465" width="1" height="4"/>
<rect class="w" x="713" y="465" width="1" height="4"/>
<rect class="w" x="718" y="465" width="2" height="4"/>
<rect class="w" x="722" y="466" width="3" height="2"/>
<path class="aa" d="M32.2 40.8L22.3 52.2L35 43" fill="#fff" stroke="#000" stroke-width="1.7" stroke-linejoin="miter"/>
<rect class="k aa" x="31" y="26" width="40" height="18" rx="3.5" ry="3.5"/>
<rect class="w aa" x="33" y="28" width="36" height="14" rx="2.0" ry="2.0"/>
<path class="aa" d="M32.7 41.2L29.65 45.51L34.5 42.6L37.55 38.29Z" fill="#fff"/>
<text transform="translate(0,39) scale(0.74,1)" font-size="14" x="51.62 64.05 73.92 83.51" clip-path="url(#c0)">JP12</text>
<polyline class="ln " points="334,38.9 341,38.9" stroke-width="2.6" />
<path class="aa" d="M350.5 36L336 38.8L350.5 41.6" fill="#fff" stroke="#000" stroke-width="1.7" stroke-linejoin="miter"/>
<rect class="k aa" x="349" y="30" width="26" height="19" rx="3.5" ry="3.5"/>
<rect class="w aa" x="351" y="32" width="22" height="15" rx="2.0" ry="2.0"/>
<path class="aa" d="M350.5 37.01L345.43 38.8L350.5 40.59L355.57 38.8Z" fill="#fff"/>
<text transform="translate(0,43) scale(0.74,1)" font-size="14" x="483.92 495.95" clip-path="url(#c1)">S1</text>
<polyline class="ln aa" points="29.5,102 19.5,111.5" stroke-width="3.6" />
<rect class="k aa" x="27" y="86" width="40" height="17" rx="3.5" ry="3.5"/>
<rect class="w aa" x="29" y="88" width="36" height="14" rx="2.0" ry="2.0"/>
<text transform="translate(0,99) scale(0.7,1)" font-size="14" x="50.5 65.21 79">SW2</text>
<polyline class="ln " points="34,119.5 40,119.5" stroke-width="3" />
<polyline class="ln " points="38,119 44,119" stroke-width="4" />
<path class="aa" d="M52 117L37 119.5L52 122" fill="#fff" stroke="#000" stroke-width="1.7" stroke-linejoin="miter"/>
<rect class="k aa" x="50" y="110.5" width="35" height="17.5" rx="2.5" ry="2.5"/>
<rect class="w aa" x="51.5" y="112" width="30.5" height="14" rx="1.0" ry="1.0"/>
<path class="aa" d="M52 117.9L46.75 119.5L52 121.1L57.25 119.5Z" fill="#fff"/>
<text transform="translate(0,123) scale(0.7,1)" font-size="14" x="80.21 93.5 109.07" clip-path="url(#c2)">SW1</text>
<rect class="k" x="127" y="90" width="60" height="19"/>
<rect class="w aa" x="129" y="92" width="55" height="15" rx="1.5" ry="1.5"/>
<text transform="translate(0,103) scale(0.71,1)" font-size="14" x="188.59 202.11 213.8 227.46 237.54 248.59" clip-path="url(#c3)">BANK 1</text>
<polyline class="ln aa" points="25.5,179.5 18,188.5" stroke-width="3.4" />
<rect class="k aa" x="23" y="163" width="32" height="18" rx="3" ry="3"/>
<rect class="w aa" x="25" y="165" width="29" height="14" rx="1.5" ry="1.5"/>
<text transform="translate(0,176) scale(0.74,1)" font-size="14" x="41.89 50.95 61.08" clip-path="url(#c4)">J24</text>
<polyline class="ln " points="34,205 41,205" stroke-width="2.6" />
<path class="aa" d="M51 202.2L36 205L51 207.8" fill="#fff" stroke="#000" stroke-width="1.7" stroke-linejoin="miter"/>
<rect class="k aa" x="50" y="197" width="34" height="17" rx="2.5" ry="2.5"/>
<rect class="w aa" x="51" y="198" width="31" height="14" rx="1.0" ry="1.0"/>
<path class="aa" d="M51 203.21L45.75 205L51 206.79L56.25 205Z" fill="#fff"/>
<text transform="translate(0,209) scale(0.74,1)" font-size="14" x="77.84 87.57 97.57" clip-path="url(#c5)">J23</text>
<rect class="k" x="127" y="183" width="60" height="18"/>
<rect class="w aa" x="129" y="185" width="55" height="14" rx="1.5" ry="1.5"/>
<text transform="translate(0,196) scale(0.71,1)" font-size="14" x="188.31 200.7 212.96 226.2 236.27 245.92">BANK 0</text>
<path class="aa" d="M261.3 273.5L263.6 254L265.9 273.5" fill="#fff" stroke="#000" stroke-width="1.7" stroke-linejoin="miter"/>
<rect class="k aa" x="248" y="272" width="34" height="18" rx="3.5" ry="3.5"/>
<rect class="w aa" x="250" y="274" width="30" height="14" rx="2.0" ry="2.0"/>
<path class="aa" d="M262.13 273.5L263.6 266.68L265.07 273.5L263.6 280.32Z" fill="#fff"/>
<text transform="translate(0,285) scale(0.74,1)" font-size="14" x="345.34 356.08 367.7" clip-path="url(#c6)">JP3</text>
<rect class="k" x="62" y="311" width="48" height="18"/>
<rect class="w" x="64" y="310" width="3" height="1"/>
<rect class="w" x="70" y="310" width="3" height="1"/>
<rect class="w" x="76" y="310" width="3" height="1"/>
<rect class="w" x="82" y="310" width="3" height="1"/>
<rect class="w" x="88" y="310" width="3" height="1"/>
<rect class="w" x="94" y="310" width="3" height="1"/>
<rect class="w" x="100" y="310" width="3" height="1"/>
<rect class="w" x="106" y="310" width="3" height="1"/>
<rect class="w" x="87" y="330" width="3" height="1"/>
<rect class="w" x="93" y="330" width="3" height="1"/>
<rect class="w" x="99" y="330" width="3" height="1"/>
<rect class="w" x="105" y="330" width="3" height="1"/>
<rect class="w aa" x="63" y="313" width="46" height="14" rx="1.5" ry="1.5"/>
<text transform="translate(0,324) scale(0.73,1)" font-size="14" x="90.82 104.79 115.48 131.16 143.97">CACHE</text>
<rect class="k" x="64" y="440" width="48" height="22"/>
<rect class="w" x="66" y="439" width="3" height="1"/>
<rect class="w" x="72" y="439" width="3" height="1"/>
<rect class="w" x="78" y="439" width="3" height="1"/>
<rect class="w" x="84" y="439" width="3" height="1"/>
<rect class="w" x="90" y="439" width="3" height="1"/>
<rect class="w" x="96" y="439" width="3" height="1"/>
<rect class="w" x="102" y="439" width="3" height="1"/>
<rect class="w" x="108" y="439" width="3" height="1"/>
<rect class="w aa" x="65" y="442" width="46" height="14" rx="1.5" ry="1.5"/>
<text transform="translate(0,453) scale(0.73,1)" font-size="14" x="93.9 108.63 118.15 131.85 145.96">CACHE</text>
<polyline class="ln " points="93,372.5 101,372.5" stroke-width="2.6" />
<path class="aa" d="M83.5 369.7L99 372.5L83.5 375.3" fill="#fff" stroke="#000" stroke-width="1.7" stroke-linejoin="miter"/>
<rect class="k aa" x="43" y="363" width="42" height="19" rx="3.5" ry="3.5"/>
<rect class="w aa" x="45.5" y="365" width="37.5" height="14.5" rx="2.0" ry="2.0"/>
<path class="aa" d="M83.5 370.71L88.92 372.5L83.5 374.29L78.08 372.5Z" fill="#fff"/>
<text transform="translate(0,376) scale(0.74,1)" font-size="14" x="71.01 83.31 92.84 103.92" clip-path="url(#c7)">JP11</text>
<polyline class="ln " points="216.5,381.3 226,381.3" stroke-width="3" />
<path class="aa" d="M208.5 378.3L224 381.3L208.5 384.3" fill="#fff" stroke="#000" stroke-width="1.7" stroke-linejoin="miter"/>
<rect class="k aa" x="175" y="372" width="35" height="19" rx="3.5" ry="3.5"/>
<rect class="w aa" x="177" y="374" width="31" height="14.5" rx="2.0" ry="2.0"/>
<path class="aa" d="M208.5 379.38L213.93 381.3L208.5 383.22L203.07 381.3Z" fill="#fff"/>
<text transform="translate(0,385) scale(0.74,1)" font-size="14" x="247.97 259.19 270.07" clip-path="url(#c8)">JP8</text>
<polyline class="ln aa" points="246.5,379.5 238.3,387.3" stroke-width="3.4" />
<rect class="k aa" x="244" y="363" width="33" height="19" rx="3.5" ry="3.5"/>
<rect class="w aa" x="246" y="364.5" width="29" height="15" rx="2.0" ry="2.0"/>
<text transform="translate(0,376) scale(0.74,1)" font-size="14" x="338.51 349.46 360.54" clip-path="url(#c9)">JP9</text>
<polyline class="ln " points="237,394 243,394" stroke-width="3" />
<path class="aa" d="M253.5 391L239 393.8L253.5 396.6" fill="#fff" stroke="#000" stroke-width="1.7" stroke-linejoin="miter"/>
<rect class="k aa" x="252" y="385" width="42" height="19" rx="3.5" ry="3.5"/>
<rect class="w aa" x="254" y="386.5" width="38" height="15" rx="2.0" ry="2.0"/>
<path class="aa" d="M253.5 392.01L248.43 393.8L253.5 395.59L258.57 393.8Z" fill="#fff"/>
<text transform="translate(0,398) scale(0.74,1)" font-size="14" x="352.3 362.84 375.54 382.7" clip-path="url(#c10)">JP10</text>
<polyline class="ln " points="267,415.4 274,415.4" stroke-width="2.6" />
<path class="aa" d="M283.5 412.6L269 415.4L283.5 418.2" fill="#fff" stroke="#000" stroke-width="1.7" stroke-linejoin="miter"/>
<rect class="k aa" x="282" y="406" width="36" height="19" rx="3.5" ry="3.5"/>
<rect class="w aa" x="284" y="407.5" width="32" height="15" rx="2.0" ry="2.0"/>
<path class="aa" d="M283.5 413.61L278.43 415.4L283.5 417.19L288.57 415.4Z" fill="#fff"/>
<text transform="translate(0,419) scale(0.74,1)" font-size="14" x="392.16 402.03 413.85" clip-path="url(#c11)">JP4</text>
<polyline class="ln " points="278,437 285,437" stroke-width="2.6" />
<path class="aa" d="M294.5 434.2L280 437L294.5 439.8" fill="#fff" stroke="#000" stroke-width="1.7" stroke-linejoin="miter"/>
<rect class="k aa" x="293" y="427" width="36" height="19" rx="3.5" ry="3.5"/>
<rect class="w aa" x="295" y="429" width="31.5" height="14.5" rx="2.0" ry="2.0"/>
<path class="aa" d="M294.5 435.21L289.43 437L294.5 438.79L299.57 437Z" fill="#fff"/>
<text transform="translate(0,440) scale(0.74,1)" font-size="14" x="407.5 418.38 428.51" clip-path="url(#c12)">JP5</text>
<polyline class="ln aa" points="277.5,448 287,456.5" stroke-width="3.2" />
<rect class="k aa" x="284" y="454" width="32" height="19" rx="3.5" ry="3.5"/>
<rect class="w aa" x="286" y="456" width="27.5" height="14.5" rx="2.0" ry="2.0"/>
<text transform="translate(0,467.7) scale(0.74,1)" font-size="14" x="392.7 403.45 414.12" clip-path="url(#c13)">JP6</text>
<path class="aa" d="M269.3 483.5L271.6 464L273.9 483.5" fill="#fff" stroke="#000" stroke-width="1.7" stroke-linejoin="miter"/>
<rect class="k aa" x="255" y="482" width="34" height="19" rx="3.5" ry="3.5"/>
<rect class="w aa" x="257.5" y="484" width="29.2" height="14.5" rx="2.0" ry="2.0"/>
<path class="aa" d="M270.13 483.5L271.6 476.68L273.07 483.5L271.6 490.32Z" fill="#fff"/>
<text transform="translate(0,495) scale(0.74,1)" font-size="14" x="355.68 366.96 377.03" clip-path="url(#c14)">JP7</text>
<rect class="k aa" x="175" y="435" width="32" height="18" rx="3.5" ry="3.5"/>
<rect class="w aa" x="177" y="437" width="28" height="14" rx="2.0" ry="2.0"/>
<text transform="translate(0,448) scale(0.74,1)" font-size="14" x="247.3 258.24 267.84">U34</text>
<rect class="k aa" x="211" y="444" width="33" height="19" rx="3.5" ry="3.5"/>
<rect class="w aa" x="213" y="446" width="28.5" height="15" rx="2.0" ry="2.0"/>
<text transform="translate(0,457) scale(0.74,1)" font-size="14" x="295.88 307.03 317.36">U33</text>
<rect class="k aa" x="195" y="501" width="32" height="19" rx="3.5" ry="3.5"/>
<rect class="w aa" x="197" y="503" width="28" height="14" rx="2.0" ry="2.0"/>
<text transform="translate(0,514) scale(0.72,1)" font-size="14" x="280.14 291.25 303.75">TAG</text>
<polyline class="ln aa" points="608,430.5 618.5,439.5" stroke-width="3.2" />
<rect class="k aa" x="578" y="414" width="33" height="19" rx="4" ry="4"/>
<rect class="w aa" x="580" y="417" width="29" height="14" rx="2.5" ry="2.5"/>
<text transform="translate(0,428) scale(0.74,1)" font-size="14" x="790.74 802.23 813.24" clip-path="url(#c15)">JP2</text>
<polyline class="ln aa" points="692,430.5 702.5,439.5" stroke-width="3.2" />
<rect class="k aa" x="662" y="414" width="33" height="19" rx="4" ry="4"/>
<rect class="w aa" x="665" y="417" width="28" height="14" rx="2.5" ry="2.5"/>
<text transform="translate(0,428) scale(0.74,1)" font-size="14" x="905.68 916.89 928.24" clip-path="url(#c16)">JP1</text>
<polyline class="ln aa" points="692,457.5 702.5,466.5" stroke-width="3.2" />
<rect class="k aa" x="662" y="441" width="33" height="19" rx="4" ry="4"/>
<rect class="w aa" x="665" y="444" width="28" height="14" rx="2.5" ry="2.5"/>
<text transform="translate(0,454.3) scale(0.74,1)" font-size="14" x="905.68 917.16 925.27" clip-path="url(#c17)">J10</text>
<text transform="translate(0,66) scale(0.71,1)" font-size="13.5" x="887.04 900.56 910.14 920.42 929.86 939.58">MH0425</text>
</g>
</svg>
</body>
</html>
